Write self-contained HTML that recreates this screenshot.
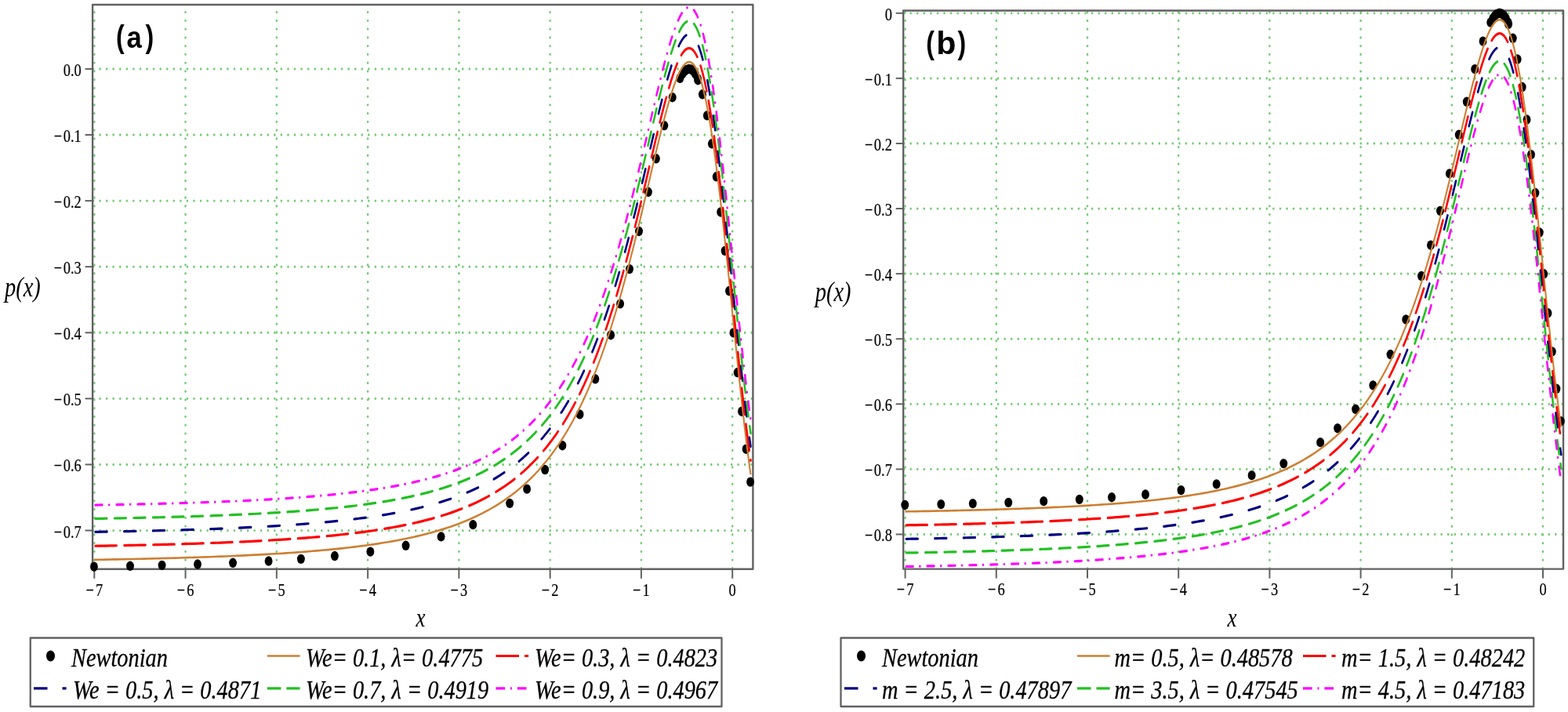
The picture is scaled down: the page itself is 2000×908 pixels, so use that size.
<!DOCTYPE html>
<html><head><meta charset="utf-8"><title>p(x) plots</title>
<style>html,body{margin:0;padding:0;background:#fff;overflow:hidden}svg{display:block}</style></head>
<body><svg width="2000" height="908" viewBox="0 0 2000 908">
<rect width="2000" height="908" fill="#fff"/>
<g transform="scale(0.7975,1)">
<g stroke="#72cc72" stroke-width="3.3" stroke-linecap="round" stroke-dasharray="0 10.745" fill="none"><line x1="150.86" y1="15.6" x2="150.86" y2="725.8"/><line x1="296.65" y1="15.6" x2="296.65" y2="725.8"/><line x1="442.45" y1="15.6" x2="442.45" y2="725.8"/><line x1="588.24" y1="15.6" x2="588.24" y2="725.8"/><line x1="734.03" y1="15.6" x2="734.03" y2="725.8"/><line x1="879.82" y1="15.6" x2="879.82" y2="725.8"/><line x1="1025.62" y1="15.6" x2="1025.62" y2="725.8"/><line x1="1171.41" y1="15.6" x2="1171.41" y2="725.8"/><line x1="149.22" y1="87.9" x2="1204.26" y2="87.9"/><line x1="149.22" y1="171.99" x2="1204.26" y2="171.99"/><line x1="149.22" y1="256.08" x2="1204.26" y2="256.08"/><line x1="149.22" y1="340.17" x2="1204.26" y2="340.17"/><line x1="149.22" y1="424.26" x2="1204.26" y2="424.26"/><line x1="149.22" y1="508.35" x2="1204.26" y2="508.35"/><line x1="149.22" y1="592.44" x2="1204.26" y2="592.44"/><line x1="149.22" y1="676.53" x2="1204.26" y2="676.53"/></g>
</g>
<rect x="118.1" y="6" width="842.3" height="719.8" fill="none" stroke="#626262" stroke-width="2.4" stroke-linejoin="round"/>
<g stroke="#626262" stroke-width="2"><line x1="108.6" y1="87.9" x2="118.1" y2="87.9"/><line x1="108.6" y1="171.99" x2="118.1" y2="171.99"/><line x1="108.6" y1="256.08" x2="118.1" y2="256.08"/><line x1="108.6" y1="340.17" x2="118.1" y2="340.17"/><line x1="108.6" y1="424.26" x2="118.1" y2="424.26"/><line x1="108.6" y1="508.35" x2="118.1" y2="508.35"/><line x1="108.6" y1="592.44" x2="118.1" y2="592.44"/><line x1="108.6" y1="676.53" x2="118.1" y2="676.53"/><line x1="120.31" y1="725.8" x2="120.31" y2="737.8"/><line x1="236.58" y1="725.8" x2="236.58" y2="737.8"/><line x1="352.85" y1="725.8" x2="352.85" y2="737.8"/><line x1="469.12" y1="725.8" x2="469.12" y2="737.8"/><line x1="585.39" y1="725.8" x2="585.39" y2="737.8"/><line x1="701.66" y1="725.8" x2="701.66" y2="737.8"/><line x1="817.93" y1="725.8" x2="817.93" y2="737.8"/><line x1="934.2" y1="725.8" x2="934.2" y2="737.8"/></g>
<g transform="scale(0.7975,1)">
<g fill="#000"><circle cx="150.42" cy="722.7" r="6.2"/><circle cx="208.16" cy="721.82" r="6.2"/><circle cx="259.04" cy="720.87" r="6.2"/><circle cx="316.04" cy="719.53" r="6.2"/><circle cx="372.46" cy="717.81" r="6.2"/><circle cx="429.62" cy="715.54" r="6.2"/><circle cx="481.37" cy="712.83" r="6.2"/><circle cx="535.32" cy="709.07" r="6.2"/><circle cx="592.32" cy="703.58" r="6.2"/><circle cx="649.03" cy="695.78" r="6.2"/><circle cx="705.46" cy="684.41" r="6.2"/><circle cx="756.48" cy="669.16" r="6.2"/><circle cx="815.24" cy="641.91" r="6.2"/><circle cx="842.79" cy="623.62" r="6.2"/><circle cx="871.66" cy="599" r="6.2"/><circle cx="899.51" cy="568.23" r="6.2"/><circle cx="927.35" cy="528.42" r="6.2"/><circle cx="952.14" cy="483.32" r="6.2"/><circle cx="976.92" cy="427.24" r="6.2"/><circle cx="991.94" cy="387.38" r="6.2"/><circle cx="1006.96" cy="343.11" r="6.2"/><circle cx="1021.97" cy="294.97" r="6.2"/><circle cx="1036.84" cy="244.79" r="6.2"/><circle cx="1049.38" cy="202.26" r="6.2"/><circle cx="1062.5" cy="160.09" r="6.2"/><circle cx="1075.48" cy="124.18" r="6.2"/><circle cx="1087.58" cy="99.75" r="6.2"/><circle cx="1091.22" cy="94.73" r="6.2"/><circle cx="1094.72" cy="91.13" r="6.2"/><circle cx="1098.22" cy="88.83" r="6.2"/><circle cx="1101.72" cy="87.91" r="6.2"/><circle cx="1105.22" cy="88.48" r="6.2"/><circle cx="1108.72" cy="90.63" r="6.2"/><circle cx="1112.22" cy="94.44" r="6.2"/><circle cx="1115.72" cy="99.97" r="6.2"/><circle cx="1116.26" cy="102.2" r="6.2"/><circle cx="1123.4" cy="120.31" r="6.2"/><circle cx="1130.84" cy="147.33" r="6.2"/><circle cx="1138.42" cy="183.3" r="6.2"/><circle cx="1145.71" cy="225.29" r="6.2"/><circle cx="1152.56" cy="270.45" r="6.2"/><circle cx="1159.41" cy="319.89" r="6.2"/><circle cx="1166.12" cy="371.02" r="6.2"/><circle cx="1172.97" cy="424.41" r="6.2"/><circle cx="1179.53" cy="475.03" r="6.2"/><circle cx="1186.24" cy="524.69" r="6.2"/><circle cx="1193.24" cy="572.7" r="6.2"/><circle cx="1200.09" cy="614.59" r="6.2"/></g>
<polyline points="150.86,713.86 156.98,713.78 163.11,713.69 169.24,713.6 175.36,713.51 181.49,713.42 187.61,713.33 193.74,713.23 199.87,713.13 205.99,713.03 212.12,712.93 218.24,712.82 224.37,712.71 230.49,712.6 236.62,712.49 242.75,712.37 248.87,712.25 255,712.12 261.12,712 267.25,711.87 273.37,711.73 279.5,711.6 285.63,711.46 291.75,711.31 297.88,711.16 304,711.01 310.13,710.85 316.25,710.69 322.38,710.53 328.51,710.36 334.63,710.18 340.76,710 346.88,709.82 353.01,709.63 359.13,709.43 365.26,709.23 371.39,709.02 377.51,708.81 383.64,708.59 389.76,708.36 395.89,708.13 402.02,707.89 408.14,707.64 414.27,707.39 420.39,707.12 426.52,706.85 432.64,706.57 438.77,706.28 444.9,705.99 451.02,705.68 457.15,705.36 463.27,705.03 469.4,704.69 475.52,704.34 481.65,703.98 487.78,703.61 493.9,703.22 500.03,702.82 506.15,702.41 512.28,701.98 518.4,701.54 524.53,701.08 530.66,700.61 536.78,700.12 542.91,699.61 549.03,699.08 555.16,698.54 561.28,697.97 567.41,697.38 573.54,696.77 579.66,696.14 585.79,695.48 591.91,694.79 598.04,694.09 604.17,693.35 610.29,692.58 616.42,691.78 622.54,690.95 628.67,690.09 634.79,689.19 640.92,688.25 647.05,687.28 653.17,686.26 659.3,685.2 665.42,684.1 671.55,682.95 677.67,681.74 683.8,680.49 689.93,679.17 696.05,677.8 702.18,676.37 708.3,674.87 714.43,673.3 720.55,671.66 726.68,669.94 732.81,668.14 738.93,666.26 745.06,664.28 751.18,662.2 757.31,660.03 763.43,657.74 769.56,655.34 775.69,652.82 781.81,650.17 787.94,647.39 794.06,644.46 800.19,641.37 806.32,638.12 812.44,634.7 818.57,631.09 824.69,627.29 830.82,623.28 836.94,619.05 843.07,614.59 849.2,609.87 855.32,604.89 861.45,599.62 867.57,594.06 873.7,588.17 879.82,581.95 880.63,581.11 881.43,580.26 882.24,579.4 883.04,578.54 883.84,577.67 884.65,576.8 885.45,575.92 886.26,575.03 887.06,574.13 887.86,573.23 888.67,572.33 889.47,571.41 890.27,570.49 891.08,569.56 891.88,568.63 892.69,567.68 893.49,566.73 894.29,565.78 895.1,564.81 895.9,563.84 896.71,562.87 897.51,561.88 898.31,560.89 899.12,559.89 899.92,558.88 900.73,557.87 901.53,556.84 902.33,555.81 903.14,554.78 903.94,553.73 904.74,552.68 905.55,551.61 906.35,550.54 907.16,549.47 907.96,548.38 908.76,547.29 909.57,546.19 910.37,545.08 911.18,543.96 911.98,542.83 912.78,541.7 913.59,540.55 914.39,539.4 915.19,538.24 916,537.07 916.8,535.89 917.61,534.7 918.41,533.51 919.21,532.3 920.02,531.09 920.82,529.87 921.63,528.63 922.43,527.39 923.23,526.14 924.04,524.88 924.84,523.61 925.65,522.33 926.45,521.05 927.25,519.75 928.06,518.44 928.86,517.12 929.66,515.8 930.47,514.46 931.27,513.11 932.08,511.76 932.88,510.39 933.68,509.01 934.49,507.63 935.29,506.23 936.1,504.82 936.9,503.41 937.7,501.98 938.51,500.54 939.31,499.09 940.11,497.63 940.92,496.16 941.72,494.68 942.53,493.19 943.33,491.68 944.13,490.17 944.94,488.64 945.74,487.11 946.55,485.56 947.35,484 948.15,482.43 948.96,480.85 949.76,479.26 950.57,477.66 951.37,476.04 952.17,474.42 952.98,472.78 953.78,471.13 954.58,469.47 955.39,467.79 956.19,466.11 957,464.41 957.8,462.7 958.6,460.98 959.41,459.25 960.21,457.5 961.02,455.75 961.82,453.98 962.62,452.19 963.43,450.4 964.23,448.59 965.03,446.77 965.84,444.94 966.64,443.1 967.45,441.24 968.25,439.38 969.05,437.49 969.86,435.6 970.66,433.69 971.47,431.77 972.27,429.84 973.07,427.9 973.88,425.94 974.68,423.97 975.49,421.99 976.29,419.99 977.09,417.98 977.9,415.96 978.7,413.92 979.5,411.88 980.31,409.82 981.11,407.74 981.92,405.66 982.72,403.56 983.52,401.44 984.33,399.32 985.13,397.18 985.94,395.03 986.74,392.86 987.54,390.69 988.35,388.5 989.15,386.29 989.95,384.08 990.76,381.85 991.56,379.61 992.37,377.35 993.17,375.08 993.97,372.8 994.78,370.51 995.58,368.21 996.39,365.89 997.19,363.56 997.99,361.22 998.8,358.86 999.6,356.49 1000.41,354.11 1001.21,351.72 1002.01,349.32 1002.82,346.9 1003.62,344.47 1004.42,342.03 1005.23,339.58 1006.03,337.12 1006.84,334.65 1007.64,332.16 1008.44,329.67 1009.25,327.16 1010.05,324.64 1010.86,322.11 1011.66,319.57 1012.46,317.02 1013.27,314.46 1014.07,311.89 1014.87,309.31 1015.68,306.72 1016.48,304.12 1017.29,301.51 1018.09,298.9 1018.89,296.27 1019.7,293.64 1020.5,290.99 1021.31,288.34 1022.11,285.68 1022.91,283.02 1023.72,280.34 1024.52,277.66 1025.33,274.98 1026.13,272.28 1026.93,269.59 1027.74,266.88 1028.54,264.17 1029.34,261.46 1030.15,258.74 1030.95,256.01 1031.76,253.28 1032.56,250.55 1033.36,247.82 1034.17,245.08 1034.97,242.34 1035.78,239.6 1036.58,236.86 1037.38,234.12 1038.19,231.37 1038.99,228.63 1039.79,225.89 1040.6,223.15 1041.4,220.41 1042.21,217.67 1043.01,214.94 1043.81,212.21 1044.62,209.48 1045.42,206.76 1046.23,204.04 1047.03,201.33 1047.83,198.62 1048.64,195.93 1049.44,193.24 1050.25,190.55 1051.05,187.88 1051.85,185.22 1052.66,182.57 1053.46,179.93 1054.26,177.3 1055.07,174.69 1055.87,172.09 1056.68,169.5 1057.48,166.93 1058.28,164.37 1059.09,161.84 1059.89,159.32 1060.7,156.81 1061.5,154.33 1062.3,151.87 1063.11,149.43 1063.91,147.02 1064.71,144.62 1065.52,142.26 1066.32,139.91 1067.13,137.6 1067.93,135.31 1068.73,133.05 1069.54,130.81 1070.34,128.61 1071.15,126.45 1071.95,124.31 1072.75,122.21 1073.56,120.14 1074.36,118.11 1075.17,116.11 1075.97,114.16 1076.77,112.24 1077.58,110.37 1078.38,108.53 1079.18,106.74 1079.99,105 1080.79,103.3 1081.6,101.64 1082.4,100.04 1083.2,98.48 1084.01,96.97 1084.81,95.52 1085.62,94.11 1086.42,92.77 1087.22,91.47 1088.03,90.24 1088.83,89.06 1089.63,87.94 1090.44,86.88 1091.24,85.88 1092.05,84.95 1092.85,84.08 1093.65,83.27 1094.46,82.53 1095.26,81.86 1096.07,81.26 1096.87,80.73 1097.67,80.27 1098.48,79.88 1099.28,79.57 1100.09,79.33 1100.89,79.17 1101.69,79.08 1102.5,79.08 1103.3,79.15 1104.1,79.3 1104.91,79.54 1105.71,79.86 1106.52,80.26 1107.32,80.75 1108.12,81.32 1108.93,81.98 1109.73,82.73 1110.54,83.57 1111.34,84.49 1112.14,85.51 1112.95,86.61 1113.75,87.81 1114.56,89.1 1115.36,90.49 1116.16,91.97 1116.97,93.54 1117.77,95.21 1118.57,96.97 1119.38,98.83 1120.18,100.79 1120.99,102.84 1121.79,104.99 1122.59,107.23 1123.4,109.58 1124.2,112.02 1125.01,114.56 1125.81,117.2 1126.61,119.93 1127.42,122.77 1128.22,125.7 1129.02,128.72 1129.83,131.85 1130.63,135.07 1131.44,138.39 1132.24,141.81 1133.04,145.32 1133.85,148.92 1134.65,152.62 1135.46,156.41 1136.26,160.3 1137.06,164.28 1137.87,168.35 1138.67,172.51 1139.48,176.76 1140.28,181.09 1141.08,185.52 1141.89,190.03 1142.69,194.62 1143.49,199.3 1144.3,204.06 1145.1,208.89 1145.91,213.81 1146.71,218.8 1147.51,223.87 1148.32,229.02 1149.12,234.23 1149.93,239.51 1150.73,244.86 1151.53,250.28 1152.34,255.76 1153.14,261.3 1153.94,266.9 1154.75,272.56 1155.55,278.28 1156.36,284.04 1157.16,289.86 1157.96,295.73 1158.77,301.64 1159.57,307.59 1160.38,313.58 1161.18,319.61 1161.98,325.68 1162.79,331.78 1163.59,337.91 1164.4,344.06 1165.2,350.24 1166,356.44 1166.81,362.66 1167.61,368.9 1168.41,375.15 1169.22,381.41 1170.02,387.68 1170.83,393.95 1171.63,400.23 1172.43,406.5 1173.24,412.78 1174.04,419.04 1174.85,425.3 1175.65,431.54 1176.45,437.77 1177.26,443.98 1178.06,450.17 1178.86,456.34 1179.67,462.48 1180.47,468.59 1181.28,474.67 1182.08,480.72 1182.88,486.73 1183.69,492.7 1184.49,498.63 1185.3,504.51 1186.1,510.35 1186.9,516.14 1187.71,521.88 1188.51,527.57 1189.32,533.19 1190.12,538.76 1190.92,544.27 1191.73,549.72 1192.53,555.1 1193.33,560.41 1194.14,565.66 1194.94,570.83 1195.75,575.94 1196.55,580.96 1197.35,585.92 1198.16,590.79 1198.96,595.59 1199.77,600.3 1200.57,604.93" fill="none" stroke="#cd7f32" stroke-width="2.6" stroke-linejoin="round"/>
<polyline points="150.86,696.29 156.98,696.2 163.11,696.12 169.24,696.03 175.36,695.94 181.49,695.85 187.61,695.75 193.74,695.66 199.87,695.56 205.99,695.46 212.12,695.35 218.24,695.25 224.37,695.14 230.49,695.03 236.62,694.91 242.75,694.79 248.87,694.67 255,694.55 261.12,694.42 267.25,694.29 273.37,694.16 279.5,694.02 285.63,693.88 291.75,693.74 297.88,693.59 304,693.43 310.13,693.28 316.25,693.12 322.38,692.95 328.51,692.78 334.63,692.61 340.76,692.43 346.88,692.24 353.01,692.05 359.13,691.86 365.26,691.65 371.39,691.45 377.51,691.23 383.64,691.01 389.76,690.79 395.89,690.55 402.02,690.31 408.14,690.07 414.27,689.81 420.39,689.55 426.52,689.28 432.64,689 438.77,688.71 444.9,688.41 451.02,688.1 457.15,687.79 463.27,687.46 469.4,687.12 475.52,686.77 481.65,686.41 487.78,686.04 493.9,685.65 500.03,685.25 506.15,684.84 512.28,684.41 518.4,683.97 524.53,683.51 530.66,683.03 536.78,682.54 542.91,682.03 549.03,681.51 555.16,680.96 561.28,680.39 567.41,679.81 573.54,679.19 579.66,678.56 585.79,677.9 591.91,677.22 598.04,676.51 604.17,675.77 610.29,675.01 616.42,674.21 622.54,673.38 628.67,672.52 634.79,671.62 640.92,670.68 647.05,669.7 653.17,668.69 659.3,667.63 665.42,666.52 671.55,665.37 677.67,664.17 683.8,662.91 689.93,661.6 696.05,660.23 702.18,658.79 708.3,657.3 714.43,655.73 720.55,654.09 726.68,652.37 732.81,650.57 738.93,648.68 745.06,646.7 751.18,644.63 757.31,642.45 763.43,640.17 769.56,637.77 775.69,635.25 781.81,632.6 787.94,629.81 794.06,626.88 800.19,623.8 806.32,620.55 812.44,617.13 818.57,613.52 824.69,609.72 830.82,605.71 836.94,601.48 843.07,597.01 849.2,592.29 855.32,587.31 861.45,582.05 867.57,576.48 873.7,570.6 879.82,564.38 880.63,563.53 881.43,562.68 882.24,561.83 883.04,560.97 883.84,560.1 884.65,559.22 885.45,558.34 886.26,557.45 887.06,556.56 887.86,555.66 888.67,554.75 889.47,553.84 890.27,552.91 891.08,551.99 891.88,551.05 892.69,550.11 893.49,549.16 894.29,548.2 895.1,547.24 895.9,546.27 896.71,545.29 897.51,544.31 898.31,543.31 899.12,542.31 899.92,541.31 900.73,540.29 901.53,539.27 902.33,538.24 903.14,537.2 903.94,536.15 904.74,535.1 905.55,534.04 906.35,532.97 907.16,531.89 907.96,530.81 908.76,529.71 909.57,528.61 910.37,527.5 911.18,526.38 911.98,525.26 912.78,524.12 913.59,522.98 914.39,521.83 915.19,520.66 916,519.49 916.8,518.32 917.61,517.13 918.41,515.93 919.21,514.73 920.02,513.51 920.82,512.29 921.63,511.06 922.43,509.82 923.23,508.57 924.04,507.31 924.84,506.04 925.65,504.76 926.45,503.47 927.25,502.17 928.06,500.87 928.86,499.55 929.66,498.22 930.47,496.89 931.27,495.54 932.08,494.18 932.88,492.82 933.68,491.44 934.49,490.05 935.29,488.66 936.1,487.25 936.9,485.83 937.7,484.4 938.51,482.96 939.31,481.51 940.11,480.05 940.92,478.58 941.72,477.1 942.53,475.61 943.33,474.11 944.13,472.59 944.94,471.07 945.74,469.53 946.55,467.99 947.35,466.43 948.15,464.86 948.96,463.28 949.76,461.69 950.57,460.08 951.37,458.47 952.17,456.84 952.98,455.2 953.78,453.55 954.58,451.89 955.39,450.22 956.19,448.53 957,446.84 957.8,445.13 958.6,443.41 959.41,441.67 960.21,439.93 961.02,438.17 961.82,436.4 962.62,434.62 963.43,432.83 964.23,431.02 965.03,429.2 965.84,427.37 966.64,425.53 967.45,423.67 968.25,421.8 969.05,419.92 969.86,418.03 970.66,416.12 971.47,414.2 972.27,412.27 973.07,410.32 973.88,408.36 974.68,406.39 975.49,404.41 976.29,402.42 977.09,400.41 977.9,398.38 978.7,396.35 979.5,394.3 980.31,392.24 981.11,390.17 981.92,388.08 982.72,385.98 983.52,383.87 984.33,381.74 985.13,379.6 985.94,377.45 986.74,375.29 987.54,373.11 988.35,370.92 989.15,368.72 989.95,366.5 990.76,364.27 991.56,362.03 992.37,359.78 993.17,357.51 993.97,355.23 994.78,352.94 995.58,350.63 996.39,348.31 997.19,345.98 997.99,343.64 998.8,341.29 999.6,338.92 1000.41,336.54 1001.21,334.15 1002.01,331.74 1002.82,329.33 1003.62,326.9 1004.42,324.46 1005.23,322.01 1006.03,319.55 1006.84,317.07 1007.64,314.59 1008.44,312.09 1009.25,309.58 1010.05,307.07 1010.86,304.54 1011.66,302 1012.46,299.45 1013.27,296.89 1014.07,294.32 1014.87,291.74 1015.68,289.15 1016.48,286.55 1017.29,283.94 1018.09,281.32 1018.89,278.7 1019.7,276.06 1020.5,273.42 1021.31,270.77 1022.11,268.11 1022.91,265.44 1023.72,262.77 1024.52,260.09 1025.33,257.4 1026.13,254.71 1026.93,252.01 1027.74,249.31 1028.54,246.6 1029.34,243.88 1030.15,241.16 1030.95,238.44 1031.76,235.71 1032.56,232.98 1033.36,230.24 1034.17,227.51 1034.97,224.77 1035.78,222.03 1036.58,219.28 1037.38,216.54 1038.19,213.8 1038.99,211.06 1039.79,208.31 1040.6,205.57 1041.4,202.83 1042.21,200.1 1043.01,197.36 1043.81,194.63 1044.62,191.9 1045.42,189.18 1046.23,186.46 1047.03,183.75 1047.83,181.05 1048.64,178.35 1049.44,175.66 1050.25,172.98 1051.05,170.31 1051.85,167.65 1052.66,164.99 1053.46,162.35 1054.26,159.73 1055.07,157.11 1055.87,154.51 1056.68,151.92 1057.48,149.35 1058.28,146.8 1059.09,144.26 1059.89,141.74 1060.7,139.24 1061.5,136.76 1062.3,134.3 1063.11,131.86 1063.91,129.44 1064.71,127.05 1065.52,124.68 1066.32,122.34 1067.13,120.02 1067.93,117.73 1068.73,115.47 1069.54,113.24 1070.34,111.04 1071.15,108.87 1071.95,106.73 1072.75,104.63 1073.56,102.56 1074.36,100.53 1075.17,98.54 1075.97,96.58 1076.77,94.67 1077.58,92.79 1078.38,90.96 1079.18,89.17 1079.99,87.42 1080.79,85.72 1081.6,84.07 1082.4,82.46 1083.2,80.9 1084.01,79.4 1084.81,77.94 1085.62,76.54 1086.42,75.19 1087.22,73.9 1088.03,72.66 1088.83,71.48 1089.63,70.36 1090.44,69.3 1091.24,68.31 1092.05,67.37 1092.85,66.5 1093.65,65.7 1094.46,64.96 1095.26,64.29 1096.07,63.69 1096.87,63.15 1097.67,62.69 1098.48,62.31 1099.28,61.99 1100.09,61.76 1100.89,61.59 1101.69,61.51 1102.5,61.5 1103.3,61.58 1104.1,61.73 1104.91,61.97 1105.71,62.28 1106.52,62.69 1107.32,63.17 1108.12,63.75 1108.93,64.41 1109.73,65.16 1110.54,65.99 1111.34,66.92 1112.14,67.93 1112.95,69.04 1113.75,70.24 1114.56,71.53 1115.36,72.91 1116.16,74.39 1116.97,75.97 1117.77,77.63 1118.57,79.4 1119.38,81.26 1120.18,83.21 1120.99,85.26 1121.79,87.41 1122.59,89.66 1123.4,92 1124.2,94.45 1125.01,96.98 1125.81,99.62 1126.61,102.36 1127.42,105.19 1128.22,108.12 1129.02,111.15 1129.83,114.28 1130.63,117.5 1131.44,120.82 1132.24,124.23 1133.04,127.74 1133.85,131.35 1134.65,135.05 1135.46,138.84 1136.26,142.73 1137.06,146.7 1137.87,150.77 1138.67,154.93 1139.48,159.18 1140.28,163.52 1141.08,167.94 1141.89,172.45 1142.69,177.05 1143.49,181.72 1144.3,186.48 1145.1,191.32 1145.91,196.24 1146.71,201.23 1147.51,206.3 1148.32,211.44 1149.12,216.65 1149.93,221.94 1150.73,227.29 1151.53,232.71 1152.34,238.19 1153.14,243.73 1153.94,249.33 1154.75,254.99 1155.55,260.7 1156.36,266.47 1157.16,272.29 1157.96,278.15 1158.77,284.06 1159.57,290.01 1160.38,296.01 1161.18,302.04 1161.98,308.1 1162.79,314.2 1163.59,320.33 1164.4,326.49 1165.2,332.67 1166,338.87 1166.81,345.09 1167.61,351.33 1168.41,357.58 1169.22,363.84 1170.02,370.11 1170.83,376.38 1171.63,382.65 1172.43,388.93 1173.24,395.2 1174.04,401.47 1174.85,407.72 1175.65,413.96 1176.45,420.19 1177.26,426.4 1178.06,432.59 1178.86,438.76 1179.67,444.9 1180.47,451.01 1181.28,457.1 1182.08,463.14 1182.88,469.15 1183.69,475.12 1184.49,481.05 1185.3,486.94 1186.1,492.78 1186.9,498.57 1187.71,504.31 1188.51,509.99 1189.32,515.62 1190.12,521.19 1190.92,526.7 1191.73,532.14 1192.53,537.52 1193.33,542.84 1194.14,548.08 1194.94,553.26 1195.75,558.36 1196.55,563.39 1197.35,568.34 1198.16,573.22 1198.96,578.01 1199.77,582.72 1200.57,587.36" fill="none" stroke="#ff0000" stroke-width="3.2" stroke-linejoin="round" stroke-dasharray="33.98 12.34" stroke-dashoffset="-1.6" stroke-linecap="round"/>
<polyline points="150.86,678.37 156.98,678.29 163.11,678.21 169.24,678.12 175.36,678.03 181.49,677.94 187.61,677.84 193.74,677.75 199.87,677.65 205.99,677.55 212.12,677.44 218.24,677.33 224.37,677.23 230.49,677.11 236.62,677 242.75,676.88 248.87,676.76 255,676.64 261.12,676.51 267.25,676.38 273.37,676.25 279.5,676.11 285.63,675.97 291.75,675.82 297.88,675.68 304,675.52 310.13,675.37 316.25,675.21 322.38,675.04 328.51,674.87 334.63,674.7 340.76,674.52 346.88,674.33 353.01,674.14 359.13,673.94 365.26,673.74 371.39,673.54 377.51,673.32 383.64,673.1 389.76,672.88 395.89,672.64 402.02,672.4 408.14,672.16 414.27,671.9 420.39,671.64 426.52,671.37 432.64,671.09 438.77,670.8 444.9,670.5 451.02,670.19 457.15,669.87 463.27,669.55 469.4,669.21 475.52,668.86 481.65,668.5 487.78,668.12 493.9,667.74 500.03,667.34 506.15,666.93 512.28,666.5 518.4,666.06 524.53,665.6 530.66,665.12 536.78,664.63 542.91,664.12 549.03,663.6 555.16,663.05 561.28,662.48 567.41,661.89 573.54,661.28 579.66,660.65 585.79,659.99 591.91,659.31 598.04,658.6 604.17,657.86 610.29,657.09 616.42,656.3 622.54,655.47 628.67,654.6 634.79,653.71 640.92,652.77 647.05,651.79 653.17,650.78 659.3,649.72 665.42,648.61 671.55,647.46 677.67,646.26 683.8,645 689.93,643.69 696.05,642.32 702.18,640.88 708.3,639.38 714.43,637.82 720.55,636.18 726.68,634.46 732.81,632.66 738.93,630.77 745.06,628.79 751.18,626.72 757.31,624.54 763.43,622.26 769.56,619.86 775.69,617.34 781.81,614.69 787.94,611.9 794.06,608.97 800.19,605.88 806.32,602.64 812.44,599.21 818.57,595.61 824.69,591.81 830.82,587.8 836.94,583.57 843.07,579.1 849.2,574.38 855.32,569.4 861.45,564.14 867.57,558.57 873.7,552.69 879.82,546.46 880.63,545.62 881.43,544.77 882.24,543.92 883.04,543.05 883.84,542.19 884.65,541.31 885.45,540.43 886.26,539.54 887.06,538.65 887.86,537.75 888.67,536.84 889.47,535.92 890.27,535 891.08,534.08 891.88,533.14 892.69,532.2 893.49,531.25 894.29,530.29 895.1,529.33 895.9,528.36 896.71,527.38 897.51,526.4 898.31,525.4 899.12,524.4 899.92,523.39 900.73,522.38 901.53,521.36 902.33,520.33 903.14,519.29 903.94,518.24 904.74,517.19 905.55,516.13 906.35,515.06 907.16,513.98 907.96,512.9 908.76,511.8 909.57,510.7 910.37,509.59 911.18,508.47 911.98,507.35 912.78,506.21 913.59,505.07 914.39,503.91 915.19,502.75 916,501.58 916.8,500.41 917.61,499.22 918.41,498.02 919.21,496.82 920.02,495.6 920.82,494.38 921.63,493.15 922.43,491.91 923.23,490.66 924.04,489.4 924.84,488.13 925.65,486.85 926.45,485.56 927.25,484.26 928.06,482.96 928.86,481.64 929.66,480.31 930.47,478.97 931.27,477.63 932.08,476.27 932.88,474.9 933.68,473.53 934.49,472.14 935.29,470.74 936.1,469.34 936.9,467.92 937.7,466.49 938.51,465.05 939.31,463.6 940.11,462.14 940.92,460.67 941.72,459.19 942.53,457.7 943.33,456.2 944.13,454.68 944.94,453.16 945.74,451.62 946.55,450.08 947.35,448.52 948.15,446.95 948.96,445.37 949.76,443.77 950.57,442.17 951.37,440.56 952.17,438.93 952.98,437.29 953.78,435.64 954.58,433.98 955.39,432.31 956.19,430.62 957,428.92 957.8,427.22 958.6,425.49 959.41,423.76 960.21,422.02 961.02,420.26 961.82,418.49 962.62,416.71 963.43,414.91 964.23,413.11 965.03,411.29 965.84,409.46 966.64,407.61 967.45,405.76 968.25,403.89 969.05,402.01 969.86,400.11 970.66,398.21 971.47,396.29 972.27,394.36 973.07,392.41 973.88,390.45 974.68,388.48 975.49,386.5 976.29,384.5 977.09,382.49 977.9,380.47 978.7,378.44 979.5,376.39 980.31,374.33 981.11,372.26 981.92,370.17 982.72,368.07 983.52,365.96 984.33,363.83 985.13,361.69 985.94,359.54 986.74,357.38 987.54,355.2 988.35,353.01 989.15,350.81 989.95,348.59 990.76,346.36 991.56,344.12 992.37,341.87 993.17,339.6 993.97,337.32 994.78,335.03 995.58,332.72 996.39,330.4 997.19,328.07 997.99,325.73 998.8,323.37 999.6,321.01 1000.41,318.63 1001.21,316.24 1002.01,313.83 1002.82,311.42 1003.62,308.99 1004.42,306.55 1005.23,304.1 1006.03,301.64 1006.84,299.16 1007.64,296.68 1008.44,294.18 1009.25,291.67 1010.05,289.15 1010.86,286.63 1011.66,284.09 1012.46,281.54 1013.27,278.98 1014.07,276.41 1014.87,273.83 1015.68,271.24 1016.48,268.64 1017.29,266.03 1018.09,263.41 1018.89,260.79 1019.7,258.15 1020.5,255.51 1021.31,252.86 1022.11,250.2 1022.91,247.53 1023.72,244.86 1024.52,242.18 1025.33,239.49 1026.13,236.8 1026.93,234.1 1027.74,231.39 1028.54,228.68 1029.34,225.97 1030.15,223.25 1030.95,220.53 1031.76,217.8 1032.56,215.07 1033.36,212.33 1034.17,209.6 1034.97,206.86 1035.78,204.12 1036.58,201.37 1037.38,198.63 1038.19,195.89 1038.99,193.14 1039.79,190.4 1040.6,187.66 1041.4,184.92 1042.21,182.18 1043.01,179.45 1043.81,176.72 1044.62,173.99 1045.42,171.27 1046.23,168.55 1047.03,165.84 1047.83,163.14 1048.64,160.44 1049.44,157.75 1050.25,155.07 1051.05,152.4 1051.85,149.73 1052.66,147.08 1053.46,144.44 1054.26,141.82 1055.07,139.2 1055.87,136.6 1056.68,134.01 1057.48,131.44 1058.28,128.89 1059.09,126.35 1059.89,123.83 1060.7,121.33 1061.5,118.85 1062.3,116.39 1063.11,113.95 1063.91,111.53 1064.71,109.14 1065.52,106.77 1066.32,104.43 1067.13,102.11 1067.93,99.82 1068.73,97.56 1069.54,95.33 1070.34,93.13 1071.15,90.96 1071.95,88.82 1072.75,86.72 1073.56,84.65 1074.36,82.62 1075.17,80.63 1075.97,78.67 1076.77,76.76 1077.58,74.88 1078.38,73.05 1079.18,71.26 1079.99,69.51 1080.79,67.81 1081.6,66.16 1082.4,64.55 1083.2,62.99 1084.01,61.49 1084.81,60.03 1085.62,58.63 1086.42,57.28 1087.22,55.99 1088.03,54.75 1088.83,53.57 1089.63,52.45 1090.44,51.39 1091.24,50.4 1092.05,49.46 1092.85,48.59 1093.65,47.79 1094.46,47.05 1095.26,46.38 1096.07,45.77 1096.87,45.24 1097.67,44.78 1098.48,44.4 1099.28,44.08 1100.09,43.84 1100.89,43.68 1101.69,43.6 1102.5,43.59 1103.3,43.66 1104.1,43.82 1104.91,44.05 1105.71,44.37 1106.52,44.78 1107.32,45.26 1108.12,45.84 1108.93,46.5 1109.73,47.24 1110.54,48.08 1111.34,49.01 1112.14,50.02 1112.95,51.13 1113.75,52.33 1114.56,53.62 1115.36,55 1116.16,56.48 1116.97,58.05 1117.77,59.72 1118.57,61.49 1119.38,63.34 1120.18,65.3 1120.99,67.35 1121.79,69.5 1122.59,71.75 1123.4,74.09 1124.2,76.53 1125.01,79.07 1125.81,81.71 1126.61,84.45 1127.42,87.28 1128.22,90.21 1129.02,93.24 1129.83,96.36 1130.63,99.59 1131.44,102.9 1132.24,106.32 1133.04,109.83 1133.85,113.44 1134.65,117.13 1135.46,120.93 1136.26,124.81 1137.06,128.79 1137.87,132.86 1138.67,137.02 1139.48,141.27 1140.28,145.61 1141.08,150.03 1141.89,154.54 1142.69,159.13 1143.49,163.81 1144.3,168.57 1145.1,173.41 1145.91,178.32 1146.71,183.32 1147.51,188.39 1148.32,193.53 1149.12,198.74 1149.93,204.03 1150.73,209.38 1151.53,214.79 1152.34,220.28 1153.14,225.82 1153.94,231.42 1154.75,237.08 1155.55,242.79 1156.36,248.56 1157.16,254.37 1157.96,260.24 1158.77,266.15 1159.57,272.1 1160.38,278.09 1161.18,284.13 1161.98,290.19 1162.79,296.29 1163.59,302.42 1164.4,308.57 1165.2,314.75 1166,320.96 1166.81,327.18 1167.61,333.41 1168.41,339.66 1169.22,345.93 1170.02,352.19 1170.83,358.47 1171.63,364.74 1172.43,371.02 1173.24,377.29 1174.04,383.55 1174.85,389.81 1175.65,396.05 1176.45,402.28 1177.26,408.49 1178.06,414.68 1178.86,420.85 1179.67,426.99 1180.47,433.1 1181.28,439.18 1182.08,445.23 1182.88,451.24 1183.69,457.21 1184.49,463.14 1185.3,469.03 1186.1,474.87 1186.9,480.66 1187.71,486.4 1188.51,492.08 1189.32,497.71 1190.12,503.28 1190.92,508.79 1191.73,514.23 1192.53,519.61 1193.33,524.93 1194.14,530.17 1194.94,535.35 1195.75,540.45 1196.55,545.48 1197.35,550.43 1198.16,555.3 1198.96,560.1 1199.77,564.81 1200.57,569.44" fill="none" stroke="#000080" stroke-width="3.2" stroke-linejoin="round" stroke-dasharray="18.73 27.32" stroke-dashoffset="-1.6" stroke-linecap="round"/>
<polyline points="150.86,661.47 156.98,661.39 163.11,661.3 169.24,661.22 175.36,661.13 181.49,661.03 187.61,660.94 193.74,660.84 199.87,660.74 205.99,660.64 212.12,660.54 218.24,660.43 224.37,660.32 230.49,660.21 236.62,660.1 242.75,659.98 248.87,659.86 255,659.74 261.12,659.61 267.25,659.48 273.37,659.35 279.5,659.21 285.63,659.07 291.75,658.92 297.88,658.77 304,658.62 310.13,658.46 316.25,658.3 322.38,658.14 328.51,657.97 334.63,657.79 340.76,657.61 346.88,657.43 353.01,657.24 359.13,657.04 365.26,656.84 371.39,656.63 377.51,656.42 383.64,656.2 389.76,655.97 395.89,655.74 402.02,655.5 408.14,655.25 414.27,655 420.39,654.73 426.52,654.46 432.64,654.18 438.77,653.9 444.9,653.6 451.02,653.29 457.15,652.97 463.27,652.64 469.4,652.31 475.52,651.96 481.65,651.6 487.78,651.22 493.9,650.84 500.03,650.44 506.15,650.02 512.28,649.6 518.4,649.15 524.53,648.7 530.66,648.22 536.78,647.73 542.91,647.22 549.03,646.69 555.16,646.15 561.28,645.58 567.41,644.99 573.54,644.38 579.66,643.75 585.79,643.09 591.91,642.41 598.04,641.7 604.17,640.96 610.29,640.19 616.42,639.39 622.54,638.57 628.67,637.7 634.79,636.8 640.92,635.87 647.05,634.89 653.17,633.88 659.3,632.82 665.42,631.71 671.55,630.56 677.67,629.35 683.8,628.1 689.93,626.79 696.05,625.41 702.18,623.98 708.3,622.48 714.43,620.91 720.55,619.27 726.68,617.55 732.81,615.75 738.93,613.87 745.06,611.89 751.18,609.82 757.31,607.64 763.43,605.36 769.56,602.96 775.69,600.43 781.81,597.79 787.94,595 794.06,592.07 800.19,588.98 806.32,585.73 812.44,582.31 818.57,578.71 824.69,574.9 830.82,570.89 836.94,566.66 843.07,562.2 849.2,557.48 855.32,552.5 861.45,547.23 867.57,541.67 873.7,535.79 879.82,529.56 880.63,528.72 881.43,527.87 882.24,527.01 883.04,526.15 883.84,525.28 884.65,524.41 885.45,523.53 886.26,522.64 887.06,521.75 887.86,520.85 888.67,519.94 889.47,519.02 890.27,518.1 891.08,517.17 891.88,516.24 892.69,515.3 893.49,514.35 894.29,513.39 895.1,512.43 895.9,511.46 896.71,510.48 897.51,509.49 898.31,508.5 899.12,507.5 899.92,506.49 900.73,505.48 901.53,504.46 902.33,503.42 903.14,502.39 903.94,501.34 904.74,500.29 905.55,499.23 906.35,498.16 907.16,497.08 907.96,495.99 908.76,494.9 909.57,493.8 910.37,492.69 911.18,491.57 911.98,490.44 912.78,489.31 913.59,488.16 914.39,487.01 915.19,485.85 916,484.68 916.8,483.5 917.61,482.32 918.41,481.12 919.21,479.92 920.02,478.7 920.82,477.48 921.63,476.25 922.43,475 923.23,473.75 924.04,472.49 924.84,471.23 925.65,469.95 926.45,468.66 927.25,467.36 928.06,466.05 928.86,464.74 929.66,463.41 930.47,462.07 931.27,460.73 932.08,459.37 932.88,458 933.68,456.63 934.49,455.24 935.29,453.84 936.1,452.43 936.9,451.02 937.7,449.59 938.51,448.15 939.31,446.7 940.11,445.24 940.92,443.77 941.72,442.29 942.53,440.8 943.33,439.29 944.13,437.78 944.94,436.26 945.74,434.72 946.55,433.17 947.35,431.61 948.15,430.05 948.96,428.46 949.76,426.87 950.57,425.27 951.37,423.65 952.17,422.03 952.98,420.39 953.78,418.74 954.58,417.08 955.39,415.4 956.19,413.72 957,412.02 957.8,410.31 958.6,408.59 959.41,406.86 960.21,405.11 961.02,403.36 961.82,401.59 962.62,399.81 963.43,398.01 964.23,396.21 965.03,394.39 965.84,392.56 966.64,390.71 967.45,388.86 968.25,386.99 969.05,385.11 969.86,383.21 970.66,381.31 971.47,379.39 972.27,377.45 973.07,375.51 973.88,373.55 974.68,371.58 975.49,369.6 976.29,367.6 977.09,365.59 977.9,363.57 978.7,361.54 979.5,359.49 980.31,357.43 981.11,355.35 981.92,353.27 982.72,351.17 983.52,349.06 984.33,346.93 985.13,344.79 985.94,342.64 986.74,340.48 987.54,338.3 988.35,336.11 989.15,333.9 989.95,331.69 990.76,329.46 991.56,327.22 992.37,324.96 993.17,322.7 993.97,320.42 994.78,318.12 995.58,315.82 996.39,313.5 997.19,311.17 997.99,308.83 998.8,306.47 999.6,304.1 1000.41,301.73 1001.21,299.33 1002.01,296.93 1002.82,294.51 1003.62,292.09 1004.42,289.65 1005.23,287.2 1006.03,284.73 1006.84,282.26 1007.64,279.77 1008.44,277.28 1009.25,274.77 1010.05,272.25 1010.86,269.72 1011.66,267.18 1012.46,264.63 1013.27,262.07 1014.07,259.5 1014.87,256.92 1015.68,254.33 1016.48,251.73 1017.29,249.13 1018.09,246.51 1018.89,243.88 1019.7,241.25 1020.5,238.61 1021.31,235.95 1022.11,233.3 1022.91,230.63 1023.72,227.96 1024.52,225.28 1025.33,222.59 1026.13,219.9 1026.93,217.2 1027.74,214.49 1028.54,211.78 1029.34,209.07 1030.15,206.35 1030.95,203.62 1031.76,200.9 1032.56,198.16 1033.36,195.43 1034.17,192.69 1034.97,189.95 1035.78,187.21 1036.58,184.47 1037.38,181.73 1038.19,178.99 1038.99,176.24 1039.79,173.5 1040.6,170.76 1041.4,168.02 1042.21,165.28 1043.01,162.55 1043.81,159.82 1044.62,157.09 1045.42,154.37 1046.23,151.65 1047.03,148.94 1047.83,146.24 1048.64,143.54 1049.44,140.85 1050.25,138.17 1051.05,135.49 1051.85,132.83 1052.66,130.18 1053.46,127.54 1054.26,124.91 1055.07,122.3 1055.87,119.7 1056.68,117.11 1057.48,114.54 1058.28,111.99 1059.09,109.45 1059.89,106.93 1060.7,104.43 1061.5,101.95 1062.3,99.48 1063.11,97.05 1063.91,94.63 1064.71,92.24 1065.52,89.87 1066.32,87.52 1067.13,85.21 1067.93,82.92 1068.73,80.66 1069.54,78.43 1070.34,76.23 1071.15,74.06 1071.95,71.92 1072.75,69.82 1073.56,67.75 1074.36,65.72 1075.17,63.73 1075.97,61.77 1076.77,59.85 1077.58,57.98 1078.38,56.15 1079.18,54.35 1079.99,52.61 1080.79,50.91 1081.6,49.25 1082.4,47.65 1083.2,46.09 1084.01,44.58 1084.81,43.13 1085.62,41.73 1086.42,40.38 1087.22,39.08 1088.03,37.85 1088.83,36.67 1089.63,35.55 1090.44,34.49 1091.24,33.49 1092.05,32.56 1092.85,31.69 1093.65,30.88 1094.46,30.15 1095.26,29.47 1096.07,28.87 1096.87,28.34 1097.67,27.88 1098.48,27.49 1099.28,27.18 1100.09,26.94 1100.89,26.78 1101.69,26.7 1102.5,26.69 1103.3,26.76 1104.1,26.92 1104.91,27.15 1105.71,27.47 1106.52,27.87 1107.32,28.36 1108.12,28.93 1108.93,29.59 1109.73,30.34 1110.54,31.18 1111.34,32.1 1112.14,33.12 1112.95,34.23 1113.75,35.43 1114.56,36.72 1115.36,38.1 1116.16,39.58 1116.97,41.15 1117.77,42.82 1118.57,44.58 1119.38,46.44 1120.18,48.4 1120.99,50.45 1121.79,52.6 1122.59,54.85 1123.4,57.19 1124.2,59.63 1125.01,62.17 1125.81,64.81 1126.61,67.54 1127.42,70.38 1128.22,73.31 1129.02,76.34 1129.83,79.46 1130.63,82.68 1131.44,86 1132.24,89.42 1133.04,92.93 1133.85,96.53 1134.65,100.23 1135.46,104.03 1136.26,107.91 1137.06,111.89 1137.87,115.96 1138.67,120.12 1139.48,124.37 1140.28,128.71 1141.08,133.13 1141.89,137.64 1142.69,142.23 1143.49,146.91 1144.3,151.67 1145.1,156.51 1145.91,161.42 1146.71,166.42 1147.51,171.49 1148.32,176.63 1149.12,181.84 1149.93,187.12 1150.73,192.48 1151.53,197.89 1152.34,203.37 1153.14,208.92 1153.94,214.52 1154.75,220.18 1155.55,225.89 1156.36,231.66 1157.16,237.47 1157.96,243.34 1158.77,249.25 1159.57,255.2 1160.38,261.19 1161.18,267.22 1161.98,273.29 1162.79,279.39 1163.59,285.52 1164.4,291.67 1165.2,297.85 1166,304.05 1166.81,310.28 1167.61,316.51 1168.41,322.76 1169.22,329.02 1170.02,335.29 1170.83,341.57 1171.63,347.84 1172.43,354.12 1173.24,360.39 1174.04,366.65 1174.85,372.91 1175.65,379.15 1176.45,385.38 1177.26,391.59 1178.06,397.78 1178.86,403.95 1179.67,410.09 1180.47,416.2 1181.28,422.28 1182.08,428.33 1182.88,434.34 1183.69,440.31 1184.49,446.24 1185.3,452.13 1186.1,457.97 1186.9,463.76 1187.71,469.49 1188.51,475.18 1189.32,480.81 1190.12,486.37 1190.92,491.88 1191.73,497.33 1192.53,502.71 1193.33,508.03 1194.14,513.27 1194.94,518.45 1195.75,523.55 1196.55,528.58 1197.35,533.53 1198.16,538.4 1198.96,543.2 1199.77,547.91 1200.57,552.54" fill="none" stroke="#22c022" stroke-width="3.2" stroke-linejoin="round" stroke-dasharray="18.38 12.36" stroke-dashoffset="-1.6" stroke-linecap="round"/>
<polyline points="150.86,644.07 156.98,643.98 163.11,643.9 169.24,643.81 175.36,643.72 181.49,643.63 187.61,643.53 193.74,643.44 199.87,643.34 205.99,643.24 212.12,643.13 218.24,643.03 224.37,642.92 230.49,642.81 236.62,642.69 242.75,642.57 248.87,642.45 255,642.33 261.12,642.2 267.25,642.07 273.37,641.94 279.5,641.8 285.63,641.66 291.75,641.52 297.88,641.37 304,641.21 310.13,641.06 316.25,640.9 322.38,640.73 328.51,640.56 334.63,640.39 340.76,640.21 346.88,640.02 353.01,639.83 359.13,639.64 365.26,639.43 371.39,639.23 377.51,639.01 383.64,638.79 389.76,638.57 395.89,638.33 402.02,638.09 408.14,637.85 414.27,637.59 420.39,637.33 426.52,637.06 432.64,636.78 438.77,636.49 444.9,636.19 451.02,635.88 457.15,635.57 463.27,635.24 469.4,634.9 475.52,634.55 481.65,634.19 487.78,633.82 493.9,633.43 500.03,633.03 506.15,632.62 512.28,632.19 518.4,631.75 524.53,631.29 530.66,630.81 536.78,630.32 542.91,629.81 549.03,629.29 555.16,628.74 561.28,628.17 567.41,627.59 573.54,626.97 579.66,626.34 585.79,625.68 591.91,625 598.04,624.29 604.17,623.55 610.29,622.79 616.42,621.99 622.54,621.16 628.67,620.3 634.79,619.4 640.92,618.46 647.05,617.48 653.17,616.47 659.3,615.41 665.42,614.3 671.55,613.15 677.67,611.95 683.8,610.69 689.93,609.38 696.05,608.01 702.18,606.57 708.3,605.08 714.43,603.51 720.55,601.87 726.68,600.15 732.81,598.35 738.93,596.46 745.06,594.48 751.18,592.41 757.31,590.23 763.43,587.95 769.56,585.55 775.69,583.03 781.81,580.38 787.94,577.59 794.06,574.66 800.19,571.58 806.32,568.33 812.44,564.91 818.57,561.3 824.69,557.5 830.82,553.49 836.94,549.26 843.07,544.79 849.2,540.07 855.32,535.09 861.45,529.83 867.57,524.26 873.7,518.38 879.82,512.16 880.63,511.31 881.43,510.46 882.24,509.61 883.04,508.75 883.84,507.88 884.65,507 885.45,506.12 886.26,505.23 887.06,504.34 887.86,503.44 888.67,502.53 889.47,501.62 890.27,500.69 891.08,499.77 891.88,498.83 892.69,497.89 893.49,496.94 894.29,495.98 895.1,495.02 895.9,494.05 896.71,493.07 897.51,492.09 898.31,491.09 899.12,490.09 899.92,489.09 900.73,488.07 901.53,487.05 902.33,486.02 903.14,484.98 903.94,483.93 904.74,482.88 905.55,481.82 906.35,480.75 907.16,479.67 907.96,478.59 908.76,477.49 909.57,476.39 910.37,475.28 911.18,474.16 911.98,473.04 912.78,471.9 913.59,470.76 914.39,469.61 915.19,468.44 916,467.27 916.8,466.1 917.61,464.91 918.41,463.71 919.21,462.51 920.02,461.29 920.82,460.07 921.63,458.84 922.43,457.6 923.23,456.35 924.04,455.09 924.84,453.82 925.65,452.54 926.45,451.25 927.25,449.95 928.06,448.65 928.86,447.33 929.66,446 930.47,444.67 931.27,443.32 932.08,441.96 932.88,440.6 933.68,439.22 934.49,437.83 935.29,436.44 936.1,435.03 936.9,433.61 937.7,432.18 938.51,430.74 939.31,429.29 940.11,427.83 940.92,426.36 941.72,424.88 942.53,423.39 943.33,421.89 944.13,420.37 944.94,418.85 945.74,417.31 946.55,415.77 947.35,414.21 948.15,412.64 948.96,411.06 949.76,409.47 950.57,407.86 951.37,406.25 952.17,404.62 952.98,402.98 953.78,401.33 954.58,399.67 955.39,398 956.19,396.31 957,394.62 957.8,392.91 958.6,391.19 959.41,389.45 960.21,387.71 961.02,385.95 961.82,384.18 962.62,382.4 963.43,380.61 964.23,378.8 965.03,376.98 965.84,375.15 966.64,373.31 967.45,371.45 968.25,369.58 969.05,367.7 969.86,365.81 970.66,363.9 971.47,361.98 972.27,360.05 973.07,358.1 973.88,356.14 974.68,354.17 975.49,352.19 976.29,350.2 977.09,348.19 977.9,346.16 978.7,344.13 979.5,342.08 980.31,340.02 981.11,337.95 981.92,335.86 982.72,333.76 983.52,331.65 984.33,329.52 985.13,327.38 985.94,325.23 986.74,323.07 987.54,320.89 988.35,318.7 989.15,316.5 989.95,314.28 990.76,312.05 991.56,309.81 992.37,307.56 993.17,305.29 993.97,303.01 994.78,300.72 995.58,298.41 996.39,296.09 997.19,293.76 997.99,291.42 998.8,289.07 999.6,286.7 1000.41,284.32 1001.21,281.93 1002.01,279.52 1002.82,277.11 1003.62,274.68 1004.42,272.24 1005.23,269.79 1006.03,267.33 1006.84,264.85 1007.64,262.37 1008.44,259.87 1009.25,257.36 1010.05,254.85 1010.86,252.32 1011.66,249.78 1012.46,247.23 1013.27,244.67 1014.07,242.1 1014.87,239.52 1015.68,236.93 1016.48,234.33 1017.29,231.72 1018.09,229.1 1018.89,226.48 1019.7,223.84 1020.5,221.2 1021.31,218.55 1022.11,215.89 1022.91,213.22 1023.72,210.55 1024.52,207.87 1025.33,205.18 1026.13,202.49 1026.93,199.79 1027.74,197.09 1028.54,194.38 1029.34,191.66 1030.15,188.94 1030.95,186.22 1031.76,183.49 1032.56,180.76 1033.36,178.02 1034.17,175.29 1034.97,172.55 1035.78,169.81 1036.58,167.06 1037.38,164.32 1038.19,161.58 1038.99,158.84 1039.79,156.09 1040.6,153.35 1041.4,150.61 1042.21,147.88 1043.01,145.14 1043.81,142.41 1044.62,139.68 1045.42,136.96 1046.23,134.24 1047.03,131.53 1047.83,128.83 1048.64,126.13 1049.44,123.44 1050.25,120.76 1051.05,118.09 1051.85,115.43 1052.66,112.77 1053.46,110.13 1054.26,107.51 1055.07,104.89 1055.87,102.29 1056.68,99.7 1057.48,97.13 1058.28,94.58 1059.09,92.04 1059.89,89.52 1060.7,87.02 1061.5,84.54 1062.3,82.08 1063.11,79.64 1063.91,77.22 1064.71,74.83 1065.52,72.46 1066.32,70.12 1067.13,67.8 1067.93,65.51 1068.73,63.25 1069.54,61.02 1070.34,58.82 1071.15,56.65 1071.95,54.51 1072.75,52.41 1073.56,50.34 1074.36,48.31 1075.17,46.32 1075.97,44.36 1076.77,42.45 1077.58,40.57 1078.38,38.74 1079.18,36.95 1079.99,35.2 1080.79,33.5 1081.6,31.85 1082.4,30.24 1083.2,28.68 1084.01,27.18 1084.81,25.72 1085.62,24.32 1086.42,22.97 1087.22,21.68 1088.03,20.44 1088.83,19.26 1089.63,18.14 1090.44,17.08 1091.24,16.09 1092.05,15.15 1092.85,14.28 1093.65,13.48 1094.46,12.74 1095.26,12.07 1096.07,11.47 1096.87,10.93 1097.67,10.47 1098.48,10.09 1099.28,9.77 1100.09,9.54 1100.89,9.37 1101.69,9.29 1102.5,9.28 1103.3,9.36 1104.1,9.51 1104.91,9.75 1105.71,10.06 1106.52,10.47 1107.32,10.95 1108.12,11.53 1108.93,12.19 1109.73,12.94 1110.54,13.77 1111.34,14.7 1112.14,15.71 1112.95,16.82 1113.75,18.02 1114.56,19.31 1115.36,20.69 1116.16,22.17 1116.97,23.75 1117.77,25.41 1118.57,27.18 1119.38,29.04 1120.18,30.99 1120.99,33.04 1121.79,35.19 1122.59,37.44 1123.4,39.78 1124.2,42.23 1125.01,44.77 1125.81,47.4 1126.61,50.14 1127.42,52.97 1128.22,55.9 1129.02,58.93 1129.83,62.06 1130.63,65.28 1131.44,68.6 1132.24,72.01 1133.04,75.52 1133.85,79.13 1134.65,82.83 1135.46,86.62 1136.26,90.51 1137.06,94.48 1137.87,98.55 1138.67,102.71 1139.48,106.96 1140.28,111.3 1141.08,115.72 1141.89,120.23 1142.69,124.83 1143.49,129.5 1144.3,134.26 1145.1,139.1 1145.91,144.02 1146.71,149.01 1147.51,154.08 1148.32,159.22 1149.12,164.43 1149.93,169.72 1150.73,175.07 1151.53,180.49 1152.34,185.97 1153.14,191.51 1153.94,197.11 1154.75,202.77 1155.55,208.48 1156.36,214.25 1157.16,220.07 1157.96,225.93 1158.77,231.84 1159.57,237.79 1160.38,243.79 1161.18,249.82 1161.98,255.88 1162.79,261.98 1163.59,268.11 1164.4,274.27 1165.2,280.45 1166,286.65 1166.81,292.87 1167.61,299.11 1168.41,305.36 1169.22,311.62 1170.02,317.89 1170.83,324.16 1171.63,330.43 1172.43,336.71 1173.24,342.98 1174.04,349.25 1174.85,355.5 1175.65,361.74 1176.45,367.97 1177.26,374.18 1178.06,380.37 1178.86,386.54 1179.67,392.68 1180.47,398.79 1181.28,404.88 1182.08,410.92 1182.88,416.93 1183.69,422.91 1184.49,428.83 1185.3,434.72 1186.1,440.56 1186.9,446.35 1187.71,452.09 1188.51,457.77 1189.32,463.4 1190.12,468.97 1190.92,474.48 1191.73,479.92 1192.53,485.3 1193.33,490.62 1194.14,495.86 1194.94,501.04 1195.75,506.14 1196.55,511.17 1197.35,516.12 1198.16,521 1198.96,525.79 1199.77,530.5 1200.57,535.14" fill="none" stroke="#ff00ff" stroke-width="3.2" stroke-linejoin="round" stroke-dasharray="10.96 10.98 0.1 11.85" stroke-dashoffset="-1.6" stroke-linecap="round"/>
</g>
<g font-family="Liberation Serif, serif" font-size="22.5" fill="#000" stroke="#000" stroke-width="0.2"><text text-anchor="end" transform="translate(103.8,96.9) scale(0.82,1)">0.0</text><text text-anchor="end" transform="translate(103.8,180.99) scale(0.82,1)">−<tspan dx="1.8">0.1</tspan></text><text text-anchor="end" transform="translate(103.8,265.08) scale(0.82,1)">−<tspan dx="1.8">0.2</tspan></text><text text-anchor="end" transform="translate(103.8,349.17) scale(0.82,1)">−<tspan dx="1.8">0.3</tspan></text><text text-anchor="end" transform="translate(103.8,433.26) scale(0.82,1)">−<tspan dx="1.8">0.4</tspan></text><text text-anchor="end" transform="translate(103.8,517.35) scale(0.82,1)">−<tspan dx="1.8">0.5</tspan></text><text text-anchor="end" transform="translate(103.8,601.44) scale(0.82,1)">−<tspan dx="1.8">0.6</tspan></text><text text-anchor="end" transform="translate(103.8,685.53) scale(0.82,1)">−<tspan dx="1.8">0.7</tspan></text><text text-anchor="middle" transform="translate(120.31,759.6) scale(0.82,1)">−<tspan dx="2.5">7</tspan></text><text text-anchor="middle" transform="translate(236.58,759.6) scale(0.82,1)">−<tspan dx="2.5">6</tspan></text><text text-anchor="middle" transform="translate(352.85,759.6) scale(0.82,1)">−<tspan dx="2.5">5</tspan></text><text text-anchor="middle" transform="translate(469.12,759.6) scale(0.82,1)">−<tspan dx="2.5">4</tspan></text><text text-anchor="middle" transform="translate(585.39,759.6) scale(0.82,1)">−<tspan dx="2.5">3</tspan></text><text text-anchor="middle" transform="translate(701.66,759.6) scale(0.82,1)">−<tspan dx="2.5">2</tspan></text><text text-anchor="middle" transform="translate(817.93,759.6) scale(0.82,1)">−<tspan dx="2.5">1</tspan></text><text text-anchor="middle" transform="translate(934.2,759.6) scale(0.82,1)">0</text></g>
<text font-family="Liberation Serif, serif" font-style="italic" font-size="35.5" transform="translate(6,378.3) scale(0.8,1)">p(x)</text>
<text font-family="Liberation Serif, serif" font-style="italic" font-size="33" transform="translate(530.6,799) scale(0.82,1)">x</text>
<g font-family="Liberation Sans, sans-serif" font-weight="bold"><text font-size="41.2" transform="translate(147.9,60.7) scale(0.78,1)">(</text><text font-size="38.5" transform="translate(161.4,60.7) scale(0.9,1)">a</text><text font-size="41.2" transform="translate(185.6,60.7) scale(0.78,1)">)</text></g>
<g transform="scale(0.7975,1)">
<g stroke="#72cc72" stroke-width="3.3" stroke-linecap="round" stroke-dasharray="0 10.745" fill="none"><line x1="1447.77" y1="15.7" x2="1447.77" y2="725.6"/><line x1="1593.48" y1="15.7" x2="1593.48" y2="725.6"/><line x1="1739.18" y1="15.7" x2="1739.18" y2="725.6"/><line x1="1884.89" y1="15.7" x2="1884.89" y2="725.6"/><line x1="2030.6" y1="15.7" x2="2030.6" y2="725.6"/><line x1="2176.3" y1="15.7" x2="2176.3" y2="725.6"/><line x1="2322.01" y1="15.7" x2="2322.01" y2="725.6"/><line x1="2467.71" y1="15.7" x2="2467.71" y2="725.6"/><line x1="1445.89" y1="16.8" x2="2500.31" y2="16.8"/><line x1="1445.89" y1="99.88" x2="2500.31" y2="99.88"/><line x1="1445.89" y1="182.96" x2="2500.31" y2="182.96"/><line x1="1445.89" y1="266.04" x2="2500.31" y2="266.04"/><line x1="1445.89" y1="349.12" x2="2500.31" y2="349.12"/><line x1="1445.89" y1="432.2" x2="2500.31" y2="432.2"/><line x1="1445.89" y1="515.28" x2="2500.31" y2="515.28"/><line x1="1445.89" y1="598.36" x2="2500.31" y2="598.36"/><line x1="1445.89" y1="681.44" x2="2500.31" y2="681.44"/></g>
</g>
<rect x="1152.2" y="13.5" width="841.8" height="712.1" fill="none" stroke="#626262" stroke-width="2.4" stroke-linejoin="round"/>
<g stroke="#626262" stroke-width="2"><line x1="1142.7" y1="16.8" x2="1152.2" y2="16.8"/><line x1="1142.7" y1="99.88" x2="1152.2" y2="99.88"/><line x1="1142.7" y1="182.96" x2="1152.2" y2="182.96"/><line x1="1142.7" y1="266.04" x2="1152.2" y2="266.04"/><line x1="1142.7" y1="349.12" x2="1152.2" y2="349.12"/><line x1="1142.7" y1="432.2" x2="1152.2" y2="432.2"/><line x1="1142.7" y1="515.28" x2="1152.2" y2="515.28"/><line x1="1142.7" y1="598.36" x2="1152.2" y2="598.36"/><line x1="1142.7" y1="681.44" x2="1152.2" y2="681.44"/><line x1="1154.6" y1="725.6" x2="1154.6" y2="737.6"/><line x1="1270.8" y1="725.6" x2="1270.8" y2="737.6"/><line x1="1387" y1="725.6" x2="1387" y2="737.6"/><line x1="1503.2" y1="725.6" x2="1503.2" y2="737.6"/><line x1="1619.4" y1="725.6" x2="1619.4" y2="737.6"/><line x1="1735.6" y1="725.6" x2="1735.6" y2="737.6"/><line x1="1851.8" y1="725.6" x2="1851.8" y2="737.6"/><line x1="1968" y1="725.6" x2="1968" y2="737.6"/></g>
<g transform="scale(0.7975,1)">
<g fill="#000"><circle cx="1447.34" cy="643.97" r="6.2"/><circle cx="1505.04" cy="643.11" r="6.2"/><circle cx="1555.89" cy="642.17" r="6.2"/><circle cx="1612.86" cy="640.84" r="6.2"/><circle cx="1669.25" cy="639.15" r="6.2"/><circle cx="1726.36" cy="636.9" r="6.2"/><circle cx="1778.09" cy="634.22" r="6.2"/><circle cx="1832" cy="630.51" r="6.2"/><circle cx="1888.97" cy="625.08" r="6.2"/><circle cx="1945.65" cy="617.38" r="6.2"/><circle cx="2002.04" cy="606.14" r="6.2"/><circle cx="2053.03" cy="591.08" r="6.2"/><circle cx="2111.75" cy="564.15" r="6.2"/><circle cx="2139.29" cy="546.09" r="6.2"/><circle cx="2168.14" cy="521.76" r="6.2"/><circle cx="2195.97" cy="491.36" r="6.2"/><circle cx="2223.8" cy="452.02" r="6.2"/><circle cx="2248.57" cy="407.47" r="6.2"/><circle cx="2273.34" cy="352.06" r="6.2"/><circle cx="2288.35" cy="312.68" r="6.2"/><circle cx="2303.36" cy="268.94" r="6.2"/><circle cx="2318.36" cy="221.38" r="6.2"/><circle cx="2333.23" cy="171.8" r="6.2"/><circle cx="2345.76" cy="129.79" r="6.2"/><circle cx="2358.87" cy="88.13" r="6.2"/><circle cx="2371.84" cy="52.64" r="6.2"/><circle cx="2383.93" cy="28.51" r="6.2"/><circle cx="2387.57" cy="23.55" r="6.2"/><circle cx="2391.07" cy="19.99" r="6.2"/><circle cx="2394.57" cy="17.72" r="6.2"/><circle cx="2398.06" cy="16.81" r="6.2"/><circle cx="2401.56" cy="17.38" r="6.2"/><circle cx="2405.06" cy="19.5" r="6.2"/><circle cx="2408.56" cy="23.26" r="6.2"/><circle cx="2412.05" cy="28.72" r="6.2"/><circle cx="2412.59" cy="30.93" r="6.2"/><circle cx="2419.73" cy="48.82" r="6.2"/><circle cx="2427.16" cy="75.52" r="6.2"/><circle cx="2434.74" cy="111.05" r="6.2"/><circle cx="2442.02" cy="152.54" r="6.2"/><circle cx="2448.87" cy="197.16" r="6.2"/><circle cx="2455.72" cy="246.01" r="6.2"/><circle cx="2462.42" cy="296.52" r="6.2"/><circle cx="2469.27" cy="349.27" r="6.2"/><circle cx="2475.83" cy="399.28" r="6.2"/><circle cx="2482.53" cy="448.35" r="6.2"/><circle cx="2489.52" cy="495.78" r="6.2"/><circle cx="2496.37" cy="537.17" r="6.2"/></g>
<polyline points="1447.77,652.36 1453.9,652.27 1460.02,652.19 1466.14,652.1 1472.26,652.01 1478.38,651.92 1484.51,651.83 1490.63,651.73 1496.75,651.64 1502.87,651.54 1509,651.43 1515.12,651.33 1521.24,651.22 1527.36,651.11 1533.48,651 1539.61,650.88 1545.73,650.76 1551.85,650.64 1557.97,650.52 1564.09,650.39 1570.22,650.25 1576.34,650.12 1582.46,649.98 1588.58,649.84 1594.7,649.69 1600.83,649.54 1606.95,649.39 1613.07,649.23 1619.19,649.06 1625.31,648.89 1631.44,648.72 1637.56,648.54 1643.68,648.36 1649.8,648.17 1655.92,647.98 1662.05,647.78 1668.17,647.58 1674.29,647.36 1680.41,647.15 1686.54,646.92 1692.66,646.69 1698.78,646.46 1704.9,646.21 1711.02,645.96 1717.15,645.7 1723.27,645.43 1729.39,645.16 1735.51,644.87 1741.63,644.58 1747.76,644.27 1753.88,643.96 1760,643.64 1766.12,643.3 1772.24,642.96 1778.37,642.6 1784.49,642.23 1790.61,641.85 1796.73,641.45 1802.85,641.05 1808.98,640.62 1815.1,640.19 1821.22,639.73 1827.34,639.26 1833.46,638.78 1839.59,638.28 1845.71,637.76 1851.83,637.22 1857.95,636.66 1864.08,636.07 1870.2,635.47 1876.32,634.84 1882.44,634.2 1888.56,633.52 1894.69,632.82 1900.81,632.09 1906.93,631.33 1913.05,630.54 1919.17,629.72 1925.3,628.87 1931.42,627.98 1937.54,627.06 1943.66,626.1 1949.78,625.09 1955.91,624.04 1962.03,622.95 1968.15,621.81 1974.27,620.62 1980.39,619.38 1986.52,618.09 1992.64,616.73 1998.76,615.32 2004.88,613.83 2011,612.29 2017.13,610.66 2023.25,608.97 2029.37,607.19 2035.49,605.32 2041.62,603.37 2047.74,601.32 2053.86,599.17 2059.98,596.91 2066.1,594.54 2072.23,592.05 2078.35,589.43 2084.47,586.68 2090.59,583.79 2096.71,580.74 2102.84,577.53 2108.96,574.15 2115.08,570.58 2121.2,566.83 2127.32,562.87 2133.45,558.69 2139.57,554.27 2145.69,549.61 2151.81,544.69 2157.93,539.49 2164.06,533.99 2170.18,528.18 2176.3,522.03 2177.1,521.2 2177.91,520.36 2178.71,519.51 2179.51,518.66 2180.32,517.8 2181.12,516.94 2181.92,516.07 2182.73,515.19 2183.53,514.31 2184.33,513.42 2185.14,512.52 2185.94,511.62 2186.74,510.71 2187.55,509.79 2188.35,508.87 2189.16,507.94 2189.96,507 2190.76,506.05 2191.57,505.1 2192.37,504.14 2193.17,503.18 2193.98,502.2 2194.78,501.22 2195.58,500.23 2196.39,499.24 2197.19,498.24 2197.99,497.23 2198.8,496.21 2199.6,495.18 2200.4,494.15 2201.21,493.11 2202.01,492.06 2202.81,491 2203.62,489.94 2204.42,488.87 2205.22,487.78 2206.03,486.7 2206.83,485.6 2207.63,484.49 2208.44,483.38 2209.24,482.26 2210.04,481.13 2210.85,479.99 2211.65,478.84 2212.45,477.69 2213.26,476.52 2214.06,475.35 2214.86,474.17 2215.67,472.98 2216.47,471.78 2217.27,470.57 2218.08,469.36 2218.88,468.13 2219.68,466.89 2220.49,465.65 2221.29,464.39 2222.09,463.13 2222.9,461.86 2223.7,460.58 2224.5,459.28 2225.31,457.98 2226.11,456.67 2226.91,455.35 2227.72,454.02 2228.52,452.68 2229.32,451.33 2230.13,449.97 2230.93,448.6 2231.73,447.22 2232.54,445.83 2233.34,444.43 2234.14,443.02 2234.95,441.6 2235.75,440.16 2236.56,438.72 2237.36,437.27 2238.16,435.81 2238.97,434.33 2239.77,432.85 2240.57,431.35 2241.38,429.85 2242.18,428.33 2242.98,426.8 2243.79,425.26 2244.59,423.71 2245.39,422.15 2246.2,420.57 2247,418.99 2247.8,417.39 2248.61,415.79 2249.41,414.17 2250.21,412.54 2251.02,410.9 2251.82,409.24 2252.62,407.58 2253.43,405.9 2254.23,404.21 2255.03,402.51 2255.84,400.8 2256.64,399.08 2257.44,397.34 2258.25,395.59 2259.05,393.83 2259.85,392.06 2260.66,390.28 2261.46,388.48 2262.26,386.67 2263.07,384.85 2263.87,383.01 2264.67,381.17 2265.48,379.31 2266.28,377.44 2267.08,375.55 2267.89,373.66 2268.69,371.75 2269.49,369.83 2270.3,367.89 2271.1,365.95 2271.9,363.99 2272.71,362.02 2273.51,360.03 2274.31,358.03 2275.12,356.02 2275.92,354 2276.72,351.96 2277.53,349.91 2278.33,347.85 2279.13,345.78 2279.94,343.69 2280.74,341.59 2281.54,339.48 2282.35,337.35 2283.15,335.21 2283.95,333.06 2284.76,330.9 2285.56,328.72 2286.37,326.53 2287.17,324.33 2287.97,322.12 2288.78,319.89 2289.58,317.65 2290.38,315.4 2291.19,313.13 2291.99,310.85 2292.79,308.56 2293.6,306.26 2294.4,303.95 2295.2,301.62 2296.01,299.28 2296.81,296.93 2297.61,294.57 2298.42,292.19 2299.22,289.81 2300.02,287.41 2300.83,285 2301.63,282.58 2302.43,280.14 2303.24,277.7 2304.04,275.24 2304.84,272.78 2305.65,270.3 2306.45,267.81 2307.25,265.31 2308.06,262.8 2308.86,260.28 2309.66,257.75 2310.47,255.22 2311.27,252.67 2312.07,250.11 2312.88,247.54 2313.68,244.96 2314.48,242.38 2315.29,239.78 2316.09,237.18 2316.89,234.57 2317.7,231.95 2318.5,229.32 2319.3,226.69 2320.11,224.05 2320.91,221.4 2321.71,218.75 2322.52,216.08 2323.32,213.42 2324.12,210.75 2324.93,208.07 2325.73,205.38 2326.53,202.7 2327.34,200.01 2328.14,197.31 2328.94,194.61 2329.75,191.91 2330.55,189.21 2331.35,186.5 2332.16,183.79 2332.96,181.08 2333.76,178.37 2334.57,175.66 2335.37,172.95 2336.18,170.25 2336.98,167.54 2337.78,164.83 2338.59,162.13 2339.39,159.42 2340.19,156.73 2341,154.03 2341.8,151.34 2342.6,148.66 2343.41,145.98 2344.21,143.31 2345.01,140.64 2345.82,137.99 2346.62,135.34 2347.42,132.7 2348.23,130.07 2349.03,127.45 2349.83,124.84 2350.64,122.24 2351.44,119.66 2352.24,117.09 2353.05,114.53 2353.85,111.99 2354.65,109.47 2355.46,106.96 2356.26,104.47 2357.06,102 2357.87,99.55 2358.67,97.12 2359.47,94.71 2360.28,92.32 2361.08,89.96 2361.88,87.62 2362.69,85.3 2363.49,83.01 2364.29,80.75 2365.1,78.52 2365.9,76.31 2366.7,74.14 2367.51,72 2368.31,69.89 2369.11,67.81 2369.92,65.77 2370.72,63.76 2371.52,61.79 2372.33,59.86 2373.13,57.96 2373.93,56.11 2374.74,54.3 2375.54,52.53 2376.34,50.81 2377.15,49.13 2377.95,47.49 2378.75,45.9 2379.56,44.37 2380.36,42.88 2381.16,41.44 2381.97,40.05 2382.77,38.72 2383.57,37.44 2384.38,36.22 2385.18,35.06 2385.99,33.95 2386.79,32.91 2387.59,31.92 2388.4,31 2389.2,30.14 2390,29.34 2390.81,28.61 2391.61,27.95 2392.41,27.36 2393.22,26.83 2394.02,26.38 2394.82,25.99 2395.63,25.68 2396.43,25.45 2397.23,25.29 2398.04,25.2 2398.84,25.2 2399.64,25.27 2400.45,25.42 2401.25,25.66 2402.05,25.97 2402.86,26.37 2403.66,26.85 2404.46,27.42 2405.27,28.07 2406.07,28.81 2406.87,29.63 2407.68,30.55 2408.48,31.55 2409.28,32.64 2410.09,33.83 2410.89,35.1 2411.69,36.47 2412.5,37.93 2413.3,39.49 2414.1,41.13 2414.91,42.88 2415.71,44.71 2416.51,46.65 2417.32,48.67 2418.12,50.8 2418.92,53.02 2419.73,55.33 2420.53,57.74 2421.33,60.25 2422.14,62.86 2422.94,65.56 2423.74,68.36 2424.55,71.26 2425.35,74.25 2426.15,77.34 2426.96,80.52 2427.76,83.8 2428.56,87.17 2429.37,90.64 2430.17,94.2 2430.97,97.86 2431.78,101.61 2432.58,105.45 2433.39,109.38 2434.19,113.4 2434.99,117.51 2435.8,121.7 2436.6,125.99 2437.4,130.36 2438.21,134.81 2439.01,139.35 2439.81,143.97 2440.62,148.67 2441.42,153.46 2442.22,158.31 2443.03,163.25 2443.83,168.25 2444.63,173.33 2445.44,178.49 2446.24,183.71 2447.04,188.99 2447.85,194.34 2448.65,199.76 2449.45,205.24 2450.26,210.77 2451.06,216.36 2451.86,222.01 2452.67,227.7 2453.47,233.45 2454.27,239.24 2455.08,245.08 2455.88,250.96 2456.68,256.88 2457.49,262.84 2458.29,268.84 2459.09,274.86 2459.9,280.92 2460.7,287 2461.5,293.1 2462.31,299.23 2463.11,305.38 2463.91,311.54 2464.72,317.72 2465.52,323.9 2466.32,330.09 2467.13,336.29 2467.93,342.49 2468.73,348.69 2469.54,354.89 2470.34,361.08 2471.14,367.26 2471.95,373.43 2472.75,379.58 2473.55,385.72 2474.36,391.83 2475.16,397.92 2475.96,403.99 2476.77,410.03 2477.57,416.04 2478.37,422.01 2479.18,427.95 2479.98,433.85 2480.78,439.71 2481.59,445.53 2482.39,451.29 2483.2,457.01 2484,462.68 2484.8,468.3 2485.61,473.86 2486.41,479.36 2487.21,484.8 2488.02,490.19 2488.82,495.5 2489.62,500.75 2490.43,505.94 2491.23,511.05 2492.03,516.09 2492.84,521.06 2493.64,525.95 2494.44,530.76 2495.25,535.5 2496.05,540.16 2496.85,544.74" fill="none" stroke="#cd7f32" stroke-width="2.6" stroke-linejoin="round"/>
<polyline points="1447.77,669.8 1453.9,669.72 1460.02,669.64 1466.14,669.55 1472.26,669.46 1478.38,669.37 1484.51,669.28 1490.63,669.18 1496.75,669.08 1502.87,668.98 1509,668.88 1515.12,668.78 1521.24,668.67 1527.36,668.56 1533.48,668.44 1539.61,668.33 1545.73,668.21 1551.85,668.09 1557.97,667.96 1564.09,667.83 1570.22,667.7 1576.34,667.57 1582.46,667.43 1588.58,667.28 1594.7,667.14 1600.83,666.99 1606.95,666.83 1613.07,666.67 1619.19,666.51 1625.31,666.34 1631.44,666.17 1637.56,665.99 1643.68,665.81 1649.8,665.62 1655.92,665.43 1662.05,665.23 1668.17,665.02 1674.29,664.81 1680.41,664.59 1686.54,664.37 1692.66,664.14 1698.78,663.9 1704.9,663.66 1711.02,663.41 1717.15,663.15 1723.27,662.88 1729.39,662.6 1735.51,662.32 1741.63,662.02 1747.76,661.72 1753.88,661.41 1760,661.08 1766.12,660.75 1772.24,660.4 1778.37,660.04 1784.49,659.68 1790.61,659.29 1796.73,658.9 1802.85,658.49 1808.98,658.07 1815.1,657.63 1821.22,657.18 1827.34,656.71 1833.46,656.23 1839.59,655.72 1845.71,655.2 1851.83,654.66 1857.95,654.1 1864.08,653.52 1870.2,652.92 1876.32,652.29 1882.44,651.64 1888.56,650.97 1894.69,650.27 1900.81,649.54 1906.93,648.78 1913.05,647.99 1919.17,647.17 1925.3,646.32 1931.42,645.43 1937.54,644.51 1943.66,643.54 1949.78,642.54 1955.91,641.49 1962.03,640.4 1968.15,639.26 1974.27,638.07 1980.39,636.83 1986.52,635.53 1992.64,634.18 1998.76,632.76 2004.88,631.28 2011,629.73 2017.13,628.11 2023.25,626.41 2029.37,624.63 2035.49,622.77 2041.62,620.82 2047.74,618.77 2053.86,616.62 2059.98,614.36 2066.1,611.99 2072.23,609.5 2078.35,606.88 2084.47,604.13 2090.59,601.23 2096.71,598.18 2102.84,594.97 2108.96,591.59 2115.08,588.03 2121.2,584.28 2127.32,580.31 2133.45,576.13 2139.57,571.72 2145.69,567.06 2151.81,562.14 2157.93,556.94 2164.06,551.44 2170.18,545.63 2176.3,539.48 2177.1,538.64 2177.91,537.81 2178.71,536.96 2179.51,536.11 2180.32,535.25 2181.12,534.39 2181.92,533.52 2182.73,532.64 2183.53,531.76 2184.33,530.87 2185.14,529.97 2185.94,529.06 2186.74,528.15 2187.55,527.24 2188.35,526.31 2189.16,525.38 2189.96,524.44 2190.76,523.5 2191.57,522.55 2192.37,521.59 2193.17,520.62 2193.98,519.65 2194.78,518.67 2195.58,517.68 2196.39,516.69 2197.19,515.68 2197.99,514.67 2198.8,513.65 2199.6,512.63 2200.4,511.6 2201.21,510.55 2202.01,509.51 2202.81,508.45 2203.62,507.38 2204.42,506.31 2205.22,505.23 2206.03,504.14 2206.83,503.05 2207.63,501.94 2208.44,500.83 2209.24,499.71 2210.04,498.58 2210.85,497.44 2211.65,496.29 2212.45,495.14 2213.26,493.97 2214.06,492.8 2214.86,491.62 2215.67,490.43 2216.47,489.23 2217.27,488.02 2218.08,486.8 2218.88,485.58 2219.68,484.34 2220.49,483.1 2221.29,481.84 2222.09,480.58 2222.9,479.31 2223.7,478.02 2224.5,476.73 2225.31,475.43 2226.11,474.12 2226.91,472.8 2227.72,471.47 2228.52,470.13 2229.32,468.78 2230.13,467.42 2230.93,466.05 2231.73,464.67 2232.54,463.28 2233.34,461.88 2234.14,460.46 2234.95,459.04 2235.75,457.61 2236.56,456.17 2237.36,454.72 2238.16,453.25 2238.97,451.78 2239.77,450.29 2240.57,448.8 2241.38,447.29 2242.18,445.77 2242.98,444.25 2243.79,442.71 2244.59,441.16 2245.39,439.59 2246.2,438.02 2247,436.44 2247.8,434.84 2248.61,433.23 2249.41,431.62 2250.21,429.99 2251.02,428.34 2251.82,426.69 2252.62,425.03 2253.43,423.35 2254.23,421.66 2255.03,419.96 2255.84,418.25 2256.64,416.52 2257.44,414.79 2258.25,413.04 2259.05,411.28 2259.85,409.51 2260.66,407.72 2261.46,405.93 2262.26,404.12 2263.07,402.3 2263.87,400.46 2264.67,398.61 2265.48,396.76 2266.28,394.89 2267.08,393 2267.89,391.11 2268.69,389.2 2269.49,387.27 2270.3,385.34 2271.1,383.39 2271.9,381.43 2272.71,379.46 2273.51,377.48 2274.31,375.48 2275.12,373.47 2275.92,371.45 2276.72,369.41 2277.53,367.36 2278.33,365.3 2279.13,363.23 2279.94,361.14 2280.74,359.04 2281.54,356.93 2282.35,354.8 2283.15,352.66 2283.95,350.51 2284.76,348.35 2285.56,346.17 2286.37,343.98 2287.17,341.78 2287.97,339.56 2288.78,337.34 2289.58,335.1 2290.38,332.84 2291.19,330.58 2291.99,328.3 2292.79,326.01 2293.6,323.71 2294.4,321.39 2295.2,319.07 2296.01,316.73 2296.81,314.38 2297.61,312.01 2298.42,309.64 2299.22,307.25 2300.02,304.85 2300.83,302.44 2301.63,300.02 2302.43,297.59 2303.24,295.14 2304.04,292.69 2304.84,290.22 2305.65,287.75 2306.45,285.26 2307.25,282.76 2308.06,280.25 2308.86,277.73 2309.66,275.2 2310.47,272.66 2311.27,270.11 2312.07,267.55 2312.88,264.99 2313.68,262.41 2314.48,259.82 2315.29,257.23 2316.09,254.63 2316.89,252.02 2317.7,249.4 2318.5,246.77 2319.3,244.14 2320.11,241.49 2320.91,238.85 2321.71,236.19 2322.52,233.53 2323.32,230.86 2324.12,228.19 2324.93,225.51 2325.73,222.83 2326.53,220.14 2327.34,217.45 2328.14,214.76 2328.94,212.06 2329.75,209.36 2330.55,206.65 2331.35,203.95 2332.16,201.24 2332.96,198.53 2333.76,195.82 2334.57,193.11 2335.37,190.4 2336.18,187.69 2336.98,184.98 2337.78,182.28 2338.59,179.57 2339.39,176.87 2340.19,174.17 2341,171.48 2341.8,168.79 2342.6,166.11 2343.41,163.43 2344.21,160.75 2345.01,158.09 2345.82,155.43 2346.62,152.78 2347.42,150.14 2348.23,147.51 2349.03,144.89 2349.83,142.29 2350.64,139.69 2351.44,137.11 2352.24,134.54 2353.05,131.98 2353.85,129.44 2354.65,126.92 2355.46,124.41 2356.26,121.92 2357.06,119.45 2357.87,117 2358.67,114.57 2359.47,112.16 2360.28,109.77 2361.08,107.4 2361.88,105.06 2362.69,102.75 2363.49,100.46 2364.29,98.2 2365.1,95.97 2365.9,93.76 2366.7,91.59 2367.51,89.44 2368.31,87.33 2369.11,85.26 2369.92,83.21 2370.72,81.21 2371.52,79.24 2372.33,77.3 2373.13,75.41 2373.93,73.56 2374.74,71.75 2375.54,69.98 2376.34,68.25 2377.15,66.57 2377.95,64.94 2378.75,63.35 2379.56,61.81 2380.36,60.32 2381.16,58.89 2381.97,57.5 2382.77,56.17 2383.57,54.89 2384.38,53.67 2385.18,52.51 2385.99,51.4 2386.79,50.35 2387.59,49.37 2388.4,48.44 2389.2,47.58 2390,46.79 2390.81,46.06 2391.61,45.4 2392.41,44.8 2393.22,44.28 2394.02,43.82 2394.82,43.44 2395.63,43.13 2396.43,42.89 2397.23,42.73 2398.04,42.65 2398.84,42.64 2399.64,42.72 2400.45,42.87 2401.25,43.1 2402.05,43.42 2402.86,43.81 2403.66,44.3 2404.46,44.86 2405.27,45.51 2406.07,46.25 2406.87,47.08 2407.68,47.99 2408.48,49 2409.28,50.09 2410.09,51.28 2410.89,52.55 2411.69,53.92 2412.5,55.38 2413.3,56.93 2414.1,58.58 2414.91,60.32 2415.71,62.16 2416.51,64.09 2417.32,66.12 2418.12,68.24 2418.92,70.46 2419.73,72.78 2420.53,75.19 2421.33,77.7 2422.14,80.31 2422.94,83.01 2423.74,85.81 2424.55,88.7 2425.35,91.7 2426.15,94.78 2426.96,97.97 2427.76,101.25 2428.56,104.62 2429.37,108.09 2430.17,111.65 2430.97,115.3 2431.78,119.05 2432.58,122.89 2433.39,126.82 2434.19,130.84 2434.99,134.95 2435.8,139.15 2436.6,143.44 2437.4,147.81 2438.21,152.26 2439.01,156.8 2439.81,161.42 2440.62,166.12 2441.42,170.9 2442.22,175.76 2443.03,180.69 2443.83,185.7 2444.63,190.78 2445.44,195.93 2446.24,201.15 2447.04,206.44 2447.85,211.79 2448.65,217.21 2449.45,222.68 2450.26,228.22 2451.06,233.81 2451.86,239.45 2452.67,245.15 2453.47,250.9 2454.27,256.69 2455.08,262.53 2455.88,268.41 2456.68,274.33 2457.49,280.29 2458.29,286.28 2459.09,292.31 2459.9,298.36 2460.7,304.45 2461.5,310.55 2462.31,316.68 2463.11,322.82 2463.91,328.99 2464.72,335.16 2465.52,341.35 2466.32,347.54 2467.13,353.74 2467.93,359.94 2468.73,366.14 2469.54,372.33 2470.34,378.52 2471.14,384.7 2471.95,390.87 2472.75,397.03 2473.55,403.16 2474.36,409.28 2475.16,415.37 2475.96,421.44 2476.77,427.48 2477.57,433.49 2478.37,439.46 2479.18,445.4 2479.98,451.3 2480.78,457.16 2481.59,462.97 2482.39,468.74 2483.2,474.46 2484,480.13 2484.8,485.75 2485.61,491.31 2486.41,496.81 2487.21,502.25 2488.02,507.63 2488.82,512.95 2489.62,518.2 2490.43,523.38 2491.23,528.49 2492.03,533.54 2492.84,538.5 2493.64,543.4 2494.44,548.21 2495.25,552.95 2496.05,557.61 2496.85,562.18" fill="none" stroke="#ff0000" stroke-width="3.2" stroke-linejoin="round" stroke-dasharray="33.79 12.29" stroke-dashoffset="-1.6" stroke-linecap="round"/>
<polyline points="1447.77,687.33 1453.9,687.25 1460.02,687.17 1466.14,687.08 1472.26,686.99 1478.38,686.9 1484.51,686.81 1490.63,686.71 1496.75,686.61 1502.87,686.51 1509,686.41 1515.12,686.31 1521.24,686.2 1527.36,686.09 1533.48,685.97 1539.61,685.86 1545.73,685.74 1551.85,685.62 1557.97,685.49 1564.09,685.36 1570.22,685.23 1576.34,685.1 1582.46,684.96 1588.58,684.81 1594.7,684.67 1600.83,684.52 1606.95,684.36 1613.07,684.2 1619.19,684.04 1625.31,683.87 1631.44,683.7 1637.56,683.52 1643.68,683.34 1649.8,683.15 1655.92,682.96 1662.05,682.76 1668.17,682.55 1674.29,682.34 1680.41,682.12 1686.54,681.9 1692.66,681.67 1698.78,681.43 1704.9,681.19 1711.02,680.94 1717.15,680.68 1723.27,680.41 1729.39,680.13 1735.51,679.85 1741.63,679.55 1747.76,679.25 1753.88,678.94 1760,678.61 1766.12,678.28 1772.24,677.93 1778.37,677.57 1784.49,677.21 1790.61,676.82 1796.73,676.43 1802.85,676.02 1808.98,675.6 1815.1,675.16 1821.22,674.71 1827.34,674.24 1833.46,673.76 1839.59,673.25 1845.71,672.73 1851.83,672.19 1857.95,671.63 1864.08,671.05 1870.2,670.45 1876.32,669.82 1882.44,669.17 1888.56,668.5 1894.69,667.8 1900.81,667.07 1906.93,666.31 1913.05,665.52 1919.17,664.7 1925.3,663.85 1931.42,662.96 1937.54,662.04 1943.66,661.07 1949.78,660.07 1955.91,659.02 1962.03,657.93 1968.15,656.79 1974.27,655.6 1980.39,654.36 1986.52,653.06 1992.64,651.71 1998.76,650.29 2004.88,648.81 2011,647.26 2017.13,645.64 2023.25,643.94 2029.37,642.16 2035.49,640.3 2041.62,638.35 2047.74,636.3 2053.86,634.15 2059.98,631.89 2066.1,629.52 2072.23,627.03 2078.35,624.41 2084.47,621.66 2090.59,618.76 2096.71,615.71 2102.84,612.5 2108.96,609.12 2115.08,605.56 2121.2,601.8 2127.32,597.84 2133.45,593.66 2139.57,589.25 2145.69,584.59 2151.81,579.67 2157.93,574.47 2164.06,568.97 2170.18,563.16 2176.3,557.01 2177.1,556.17 2177.91,555.34 2178.71,554.49 2179.51,553.64 2180.32,552.78 2181.12,551.92 2181.92,551.05 2182.73,550.17 2183.53,549.29 2184.33,548.4 2185.14,547.5 2185.94,546.59 2186.74,545.68 2187.55,544.77 2188.35,543.84 2189.16,542.91 2189.96,541.97 2190.76,541.03 2191.57,540.08 2192.37,539.12 2193.17,538.15 2193.98,537.18 2194.78,536.2 2195.58,535.21 2196.39,534.22 2197.19,533.21 2197.99,532.2 2198.8,531.18 2199.6,530.16 2200.4,529.13 2201.21,528.08 2202.01,527.04 2202.81,525.98 2203.62,524.91 2204.42,523.84 2205.22,522.76 2206.03,521.67 2206.83,520.58 2207.63,519.47 2208.44,518.36 2209.24,517.24 2210.04,516.11 2210.85,514.97 2211.65,513.82 2212.45,512.67 2213.26,511.5 2214.06,510.33 2214.86,509.15 2215.67,507.96 2216.47,506.76 2217.27,505.55 2218.08,504.33 2218.88,503.11 2219.68,501.87 2220.49,500.63 2221.29,499.37 2222.09,498.11 2222.9,496.84 2223.7,495.55 2224.5,494.26 2225.31,492.96 2226.11,491.65 2226.91,490.33 2227.72,489 2228.52,487.66 2229.32,486.31 2230.13,484.95 2230.93,483.58 2231.73,482.2 2232.54,480.81 2233.34,479.41 2234.14,477.99 2234.95,476.57 2235.75,475.14 2236.56,473.7 2237.36,472.25 2238.16,470.78 2238.97,469.31 2239.77,467.82 2240.57,466.33 2241.38,464.82 2242.18,463.3 2242.98,461.78 2243.79,460.24 2244.59,458.69 2245.39,457.12 2246.2,455.55 2247,453.97 2247.8,452.37 2248.61,450.76 2249.41,449.15 2250.21,447.52 2251.02,445.87 2251.82,444.22 2252.62,442.56 2253.43,440.88 2254.23,439.19 2255.03,437.49 2255.84,435.78 2256.64,434.05 2257.44,432.32 2258.25,430.57 2259.05,428.81 2259.85,427.04 2260.66,425.25 2261.46,423.46 2262.26,421.65 2263.07,419.82 2263.87,417.99 2264.67,416.14 2265.48,414.29 2266.28,412.41 2267.08,410.53 2267.89,408.64 2268.69,406.73 2269.49,404.8 2270.3,402.87 2271.1,400.92 2271.9,398.96 2272.71,396.99 2273.51,395.01 2274.31,393.01 2275.12,391 2275.92,388.98 2276.72,386.94 2277.53,384.89 2278.33,382.83 2279.13,380.76 2279.94,378.67 2280.74,376.57 2281.54,374.46 2282.35,372.33 2283.15,370.19 2283.95,368.04 2284.76,365.88 2285.56,363.7 2286.37,361.51 2287.17,359.31 2287.97,357.09 2288.78,354.87 2289.58,352.63 2290.38,350.37 2291.19,348.11 2291.99,345.83 2292.79,343.54 2293.6,341.24 2294.4,338.92 2295.2,336.6 2296.01,334.26 2296.81,331.91 2297.61,329.54 2298.42,327.17 2299.22,324.78 2300.02,322.38 2300.83,319.97 2301.63,317.55 2302.43,315.12 2303.24,312.67 2304.04,310.22 2304.84,307.75 2305.65,305.28 2306.45,302.79 2307.25,300.29 2308.06,297.78 2308.86,295.26 2309.66,292.73 2310.47,290.19 2311.27,287.64 2312.07,285.08 2312.88,282.52 2313.68,279.94 2314.48,277.35 2315.29,274.76 2316.09,272.16 2316.89,269.55 2317.7,266.93 2318.5,264.3 2319.3,261.67 2320.11,259.02 2320.91,256.38 2321.71,253.72 2322.52,251.06 2323.32,248.39 2324.12,245.72 2324.93,243.04 2325.73,240.36 2326.53,237.67 2327.34,234.98 2328.14,232.29 2328.94,229.59 2329.75,226.89 2330.55,224.18 2331.35,221.48 2332.16,218.77 2332.96,216.06 2333.76,213.35 2334.57,210.64 2335.37,207.93 2336.18,205.22 2336.98,202.51 2337.78,199.81 2338.59,197.1 2339.39,194.4 2340.19,191.7 2341,189.01 2341.8,186.32 2342.6,183.64 2343.41,180.96 2344.21,178.28 2345.01,175.62 2345.82,172.96 2346.62,170.31 2347.42,167.67 2348.23,165.04 2349.03,162.42 2349.83,159.82 2350.64,157.22 2351.44,154.64 2352.24,152.07 2353.05,149.51 2353.85,146.97 2354.65,144.45 2355.46,141.94 2356.26,139.45 2357.06,136.98 2357.87,134.53 2358.67,132.1 2359.47,129.69 2360.28,127.3 2361.08,124.93 2361.88,122.59 2362.69,120.28 2363.49,117.99 2364.29,115.73 2365.1,113.49 2365.9,111.29 2366.7,109.12 2367.51,106.97 2368.31,104.86 2369.11,102.79 2369.92,100.74 2370.72,98.74 2371.52,96.77 2372.33,94.83 2373.13,92.94 2373.93,91.09 2374.74,89.28 2375.54,87.51 2376.34,85.78 2377.15,84.1 2377.95,82.47 2378.75,80.88 2379.56,79.34 2380.36,77.85 2381.16,76.42 2381.97,75.03 2382.77,73.7 2383.57,72.42 2384.38,71.2 2385.18,70.04 2385.99,68.93 2386.79,67.88 2387.59,66.9 2388.4,65.97 2389.2,65.11 2390,64.32 2390.81,63.59 2391.61,62.93 2392.41,62.33 2393.22,61.81 2394.02,61.35 2394.82,60.97 2395.63,60.66 2396.43,60.42 2397.23,60.26 2398.04,60.18 2398.84,60.17 2399.64,60.25 2400.45,60.4 2401.25,60.63 2402.05,60.95 2402.86,61.34 2403.66,61.83 2404.46,62.39 2405.27,63.04 2406.07,63.78 2406.87,64.61 2407.68,65.52 2408.48,66.53 2409.28,67.62 2410.09,68.81 2410.89,70.08 2411.69,71.45 2412.5,72.91 2413.3,74.46 2414.1,76.11 2414.91,77.85 2415.71,79.69 2416.51,81.62 2417.32,83.65 2418.12,85.77 2418.92,87.99 2419.73,90.31 2420.53,92.72 2421.33,95.23 2422.14,97.84 2422.94,100.54 2423.74,103.34 2424.55,106.23 2425.35,109.23 2426.15,112.31 2426.96,115.5 2427.76,118.78 2428.56,122.15 2429.37,125.62 2430.17,129.18 2430.97,132.83 2431.78,136.58 2432.58,140.42 2433.39,144.35 2434.19,148.37 2434.99,152.48 2435.8,156.68 2436.6,160.97 2437.4,165.34 2438.21,169.79 2439.01,174.33 2439.81,178.95 2440.62,183.65 2441.42,188.43 2442.22,193.29 2443.03,198.22 2443.83,203.23 2444.63,208.31 2445.44,213.46 2446.24,218.68 2447.04,223.97 2447.85,229.32 2448.65,234.74 2449.45,240.21 2450.26,245.75 2451.06,251.34 2451.86,256.98 2452.67,262.68 2453.47,268.43 2454.27,274.22 2455.08,280.06 2455.88,285.94 2456.68,291.86 2457.49,297.82 2458.29,303.81 2459.09,309.84 2459.9,315.89 2460.7,321.98 2461.5,328.08 2462.31,334.21 2463.11,340.35 2463.91,346.52 2464.72,352.69 2465.52,358.88 2466.32,365.07 2467.13,371.27 2467.93,377.47 2468.73,383.67 2469.54,389.86 2470.34,396.05 2471.14,402.23 2471.95,408.4 2472.75,414.56 2473.55,420.69 2474.36,426.81 2475.16,432.9 2475.96,438.97 2476.77,445.01 2477.57,451.02 2478.37,456.99 2479.18,462.93 2479.98,468.83 2480.78,474.69 2481.59,480.5 2482.39,486.27 2483.2,491.99 2484,497.66 2484.8,503.28 2485.61,508.84 2486.41,514.34 2487.21,519.78 2488.02,525.16 2488.82,530.48 2489.62,535.73 2490.43,540.91 2491.23,546.02 2492.03,551.07 2492.84,556.03 2493.64,560.93 2494.44,565.74 2495.25,570.48 2496.05,575.14 2496.85,579.71" fill="none" stroke="#000080" stroke-width="3.2" stroke-linejoin="round" stroke-dasharray="18.62 27.2" stroke-dashoffset="-1.6" stroke-linecap="round"/>
<polyline points="1447.77,705.03 1453.9,704.95 1460.02,704.86 1466.14,704.78 1472.26,704.69 1478.38,704.6 1484.51,704.5 1490.63,704.41 1496.75,704.31 1502.87,704.21 1509,704.11 1515.12,704 1521.24,703.89 1527.36,703.78 1533.48,703.67 1539.61,703.55 1545.73,703.44 1551.85,703.31 1557.97,703.19 1564.09,703.06 1570.22,702.93 1576.34,702.79 1582.46,702.65 1588.58,702.51 1594.7,702.36 1600.83,702.21 1606.95,702.06 1613.07,701.9 1619.19,701.74 1625.31,701.57 1631.44,701.39 1637.56,701.22 1643.68,701.03 1649.8,700.85 1655.92,700.65 1662.05,700.45 1668.17,700.25 1674.29,700.04 1680.41,699.82 1686.54,699.6 1692.66,699.37 1698.78,699.13 1704.9,698.88 1711.02,698.63 1717.15,698.37 1723.27,698.1 1729.39,697.83 1735.51,697.54 1741.63,697.25 1747.76,696.95 1753.88,696.63 1760,696.31 1766.12,695.97 1772.24,695.63 1778.37,695.27 1784.49,694.9 1790.61,694.52 1796.73,694.13 1802.85,693.72 1808.98,693.3 1815.1,692.86 1821.22,692.41 1827.34,691.94 1833.46,691.45 1839.59,690.95 1845.71,690.43 1851.83,689.89 1857.95,689.33 1864.08,688.75 1870.2,688.14 1876.32,687.52 1882.44,686.87 1888.56,686.19 1894.69,685.49 1900.81,684.76 1906.93,684.01 1913.05,683.22 1919.17,682.4 1925.3,681.54 1931.42,680.66 1937.54,679.73 1943.66,678.77 1949.78,677.76 1955.91,676.72 1962.03,675.63 1968.15,674.49 1974.27,673.3 1980.39,672.06 1986.52,670.76 1992.64,669.4 1998.76,667.99 2004.88,666.51 2011,664.96 2017.13,663.34 2023.25,661.64 2029.37,659.86 2035.49,658 2041.62,656.04 2047.74,653.99 2053.86,651.84 2059.98,649.59 2066.1,647.22 2072.23,644.72 2078.35,642.11 2084.47,639.35 2090.59,636.46 2096.71,633.41 2102.84,630.2 2108.96,626.82 2115.08,623.26 2121.2,619.5 2127.32,615.54 2133.45,611.36 2139.57,606.95 2145.69,602.29 2151.81,597.37 2157.93,592.16 2164.06,586.67 2170.18,580.85 2176.3,574.7 2177.1,573.87 2177.91,573.03 2178.71,572.19 2179.51,571.34 2180.32,570.48 2181.12,569.61 2181.92,568.74 2182.73,567.87 2183.53,566.98 2184.33,566.09 2185.14,565.19 2185.94,564.29 2186.74,563.38 2187.55,562.46 2188.35,561.54 2189.16,560.61 2189.96,559.67 2190.76,558.73 2191.57,557.77 2192.37,556.81 2193.17,555.85 2193.98,554.88 2194.78,553.89 2195.58,552.91 2196.39,551.91 2197.19,550.91 2197.99,549.9 2198.8,548.88 2199.6,547.85 2200.4,546.82 2201.21,545.78 2202.01,544.73 2202.81,543.68 2203.62,542.61 2204.42,541.54 2205.22,540.46 2206.03,539.37 2206.83,538.27 2207.63,537.17 2208.44,536.05 2209.24,534.93 2210.04,533.8 2210.85,532.66 2211.65,531.52 2212.45,530.36 2213.26,529.2 2214.06,528.02 2214.86,526.84 2215.67,525.65 2216.47,524.45 2217.27,523.25 2218.08,522.03 2218.88,520.8 2219.68,519.57 2220.49,518.32 2221.29,517.07 2222.09,515.8 2222.9,514.53 2223.7,513.25 2224.5,511.96 2225.31,510.66 2226.11,509.35 2226.91,508.02 2227.72,506.69 2228.52,505.35 2229.32,504 2230.13,502.64 2230.93,501.27 2231.73,499.89 2232.54,498.5 2233.34,497.1 2234.14,495.69 2234.95,494.27 2235.75,492.84 2236.56,491.4 2237.36,489.94 2238.16,488.48 2238.97,487 2239.77,485.52 2240.57,484.02 2241.38,482.52 2242.18,481 2242.98,479.47 2243.79,477.93 2244.59,476.38 2245.39,474.82 2246.2,473.25 2247,471.66 2247.8,470.07 2248.61,468.46 2249.41,466.84 2250.21,465.21 2251.02,463.57 2251.82,461.92 2252.62,460.25 2253.43,458.58 2254.23,456.89 2255.03,455.19 2255.84,453.47 2256.64,451.75 2257.44,450.01 2258.25,448.27 2259.05,446.51 2259.85,444.73 2260.66,442.95 2261.46,441.15 2262.26,439.34 2263.07,437.52 2263.87,435.69 2264.67,433.84 2265.48,431.98 2266.28,430.11 2267.08,428.23 2267.89,426.33 2268.69,424.42 2269.49,422.5 2270.3,420.57 2271.1,418.62 2271.9,416.66 2272.71,414.69 2273.51,412.7 2274.31,410.71 2275.12,408.7 2275.92,406.67 2276.72,404.64 2277.53,402.59 2278.33,400.53 2279.13,398.45 2279.94,396.36 2280.74,394.26 2281.54,392.15 2282.35,390.03 2283.15,387.89 2283.95,385.74 2284.76,383.57 2285.56,381.4 2286.37,379.21 2287.17,377 2287.97,374.79 2288.78,372.56 2289.58,370.32 2290.38,368.07 2291.19,365.8 2291.99,363.53 2292.79,361.24 2293.6,358.93 2294.4,356.62 2295.2,354.29 2296.01,351.95 2296.81,349.6 2297.61,347.24 2298.42,344.86 2299.22,342.48 2300.02,340.08 2300.83,337.67 2301.63,335.25 2302.43,332.82 2303.24,330.37 2304.04,327.92 2304.84,325.45 2305.65,322.97 2306.45,320.48 2307.25,317.99 2308.06,315.48 2308.86,312.96 2309.66,310.43 2310.47,307.89 2311.27,305.34 2312.07,302.78 2312.88,300.21 2313.68,297.64 2314.48,295.05 2315.29,292.46 2316.09,289.85 2316.89,287.24 2317.7,284.62 2318.5,282 2319.3,279.36 2320.11,276.72 2320.91,274.07 2321.71,271.42 2322.52,268.76 2323.32,266.09 2324.12,263.42 2324.93,260.74 2325.73,258.06 2326.53,255.37 2327.34,252.68 2328.14,249.98 2328.94,247.29 2329.75,244.58 2330.55,241.88 2331.35,239.17 2332.16,236.47 2332.96,233.76 2333.76,231.05 2334.57,228.34 2335.37,225.63 2336.18,222.92 2336.98,220.21 2337.78,217.5 2338.59,214.8 2339.39,212.1 2340.19,209.4 2341,206.71 2341.8,204.02 2342.6,201.33 2343.41,198.65 2344.21,195.98 2345.01,193.32 2345.82,190.66 2346.62,188.01 2347.42,185.37 2348.23,182.74 2349.03,180.12 2349.83,177.51 2350.64,174.92 2351.44,172.33 2352.24,169.76 2353.05,167.21 2353.85,164.67 2354.65,162.14 2355.46,159.63 2356.26,157.15 2357.06,154.67 2357.87,152.22 2358.67,149.79 2359.47,147.38 2360.28,144.99 2361.08,142.63 2361.88,140.29 2362.69,137.98 2363.49,135.69 2364.29,133.42 2365.1,131.19 2365.9,128.99 2366.7,126.81 2367.51,124.67 2368.31,122.56 2369.11,120.48 2369.92,118.44 2370.72,116.43 2371.52,114.46 2372.33,112.53 2373.13,110.64 2373.93,108.78 2374.74,106.97 2375.54,105.2 2376.34,103.48 2377.15,101.8 2377.95,100.16 2378.75,98.58 2379.56,97.04 2380.36,95.55 2381.16,94.11 2381.97,92.73 2382.77,91.39 2383.57,90.12 2384.38,88.9 2385.18,87.73 2385.99,86.63 2386.79,85.58 2387.59,84.59 2388.4,83.67 2389.2,82.81 2390,82.01 2390.81,81.28 2391.61,80.62 2392.41,80.03 2393.22,79.5 2394.02,79.05 2394.82,78.67 2395.63,78.36 2396.43,78.12 2397.23,77.96 2398.04,77.88 2398.84,77.87 2399.64,77.94 2400.45,78.1 2401.25,78.33 2402.05,78.64 2402.86,79.04 2403.66,79.52 2404.46,80.09 2405.27,80.74 2406.07,81.48 2406.87,82.31 2407.68,83.22 2408.48,84.22 2409.28,85.32 2410.09,86.5 2410.89,87.78 2411.69,89.15 2412.5,90.61 2413.3,92.16 2414.1,93.81 2414.91,95.55 2415.71,97.39 2416.51,99.32 2417.32,101.35 2418.12,103.47 2418.92,105.69 2419.73,108.01 2420.53,110.42 2421.33,112.93 2422.14,115.53 2422.94,118.24 2423.74,121.03 2424.55,123.93 2425.35,126.92 2426.15,130.01 2426.96,133.19 2427.76,136.47 2428.56,139.85 2429.37,143.31 2430.17,146.88 2430.97,150.53 2431.78,154.28 2432.58,158.12 2433.39,162.05 2434.19,166.07 2434.99,170.18 2435.8,174.38 2436.6,178.66 2437.4,183.03 2438.21,187.49 2439.01,192.03 2439.81,196.65 2440.62,201.35 2441.42,206.13 2442.22,210.99 2443.03,215.92 2443.83,220.93 2444.63,226.01 2445.44,231.16 2446.24,236.38 2447.04,241.67 2447.85,247.02 2448.65,252.43 2449.45,257.91 2450.26,263.44 2451.06,269.03 2451.86,274.68 2452.67,280.38 2453.47,286.12 2454.27,291.92 2455.08,297.76 2455.88,303.64 2456.68,309.56 2457.49,315.52 2458.29,321.51 2459.09,327.53 2459.9,333.59 2460.7,339.67 2461.5,345.78 2462.31,351.9 2463.11,358.05 2463.91,364.21 2464.72,370.39 2465.52,376.57 2466.32,382.77 2467.13,388.96 2467.93,395.17 2468.73,401.36 2469.54,407.56 2470.34,413.75 2471.14,419.93 2471.95,426.1 2472.75,432.25 2473.55,438.39 2474.36,444.5 2475.16,450.6 2475.96,456.66 2476.77,462.7 2477.57,468.71 2478.37,474.69 2479.18,480.63 2479.98,486.52 2480.78,492.38 2481.59,498.2 2482.39,503.97 2483.2,509.69 2484,515.36 2484.8,520.97 2485.61,526.53 2486.41,532.03 2487.21,537.48 2488.02,542.86 2488.82,548.17 2489.62,553.43 2490.43,558.61 2491.23,563.72 2492.03,568.76 2492.84,573.73 2493.64,578.62 2494.44,583.44 2495.25,588.17 2496.05,592.83 2496.85,597.41" fill="none" stroke="#22c022" stroke-width="3.2" stroke-linejoin="round" stroke-dasharray="18.27 12.31" stroke-dashoffset="-1.6" stroke-linecap="round"/>
<polyline points="1447.77,722.48 1453.9,722.39 1460.02,722.31 1466.14,722.22 1472.26,722.13 1478.38,722.04 1484.51,721.95 1490.63,721.85 1496.75,721.76 1502.87,721.66 1509,721.55 1515.12,721.45 1521.24,721.34 1527.36,721.23 1533.48,721.12 1539.61,721 1545.73,720.88 1551.85,720.76 1557.97,720.63 1564.09,720.51 1570.22,720.37 1576.34,720.24 1582.46,720.1 1588.58,719.96 1594.7,719.81 1600.83,719.66 1606.95,719.5 1613.07,719.35 1619.19,719.18 1625.31,719.01 1631.44,718.84 1637.56,718.66 1643.68,718.48 1649.8,718.29 1655.92,718.1 1662.05,717.9 1668.17,717.7 1674.29,717.48 1680.41,717.27 1686.54,717.04 1692.66,716.81 1698.78,716.58 1704.9,716.33 1711.02,716.08 1717.15,715.82 1723.27,715.55 1729.39,715.28 1735.51,714.99 1741.63,714.7 1747.76,714.39 1753.88,714.08 1760,713.75 1766.12,713.42 1772.24,713.07 1778.37,712.72 1784.49,712.35 1790.61,711.97 1796.73,711.57 1802.85,711.16 1808.98,710.74 1815.1,710.31 1821.22,709.85 1827.34,709.38 1833.46,708.9 1839.59,708.4 1845.71,707.88 1851.83,707.33 1857.95,706.77 1864.08,706.19 1870.2,705.59 1876.32,704.96 1882.44,704.31 1888.56,703.64 1894.69,702.94 1900.81,702.21 1906.93,701.45 1913.05,700.66 1919.17,699.84 1925.3,698.99 1931.42,698.1 1937.54,697.18 1943.66,696.21 1949.78,695.21 1955.91,694.16 1962.03,693.07 1968.15,691.93 1974.27,690.74 1980.39,689.5 1986.52,688.21 1992.64,686.85 1998.76,685.44 2004.88,683.95 2011,682.41 2017.13,680.78 2023.25,679.09 2029.37,677.31 2035.49,675.44 2041.62,673.49 2047.74,671.44 2053.86,669.29 2059.98,667.03 2066.1,664.66 2072.23,662.17 2078.35,659.55 2084.47,656.8 2090.59,653.91 2096.71,650.86 2102.84,647.65 2108.96,644.27 2115.08,640.7 2121.2,636.95 2127.32,632.99 2133.45,628.81 2139.57,624.39 2145.69,619.73 2151.81,614.81 2157.93,609.61 2164.06,604.11 2170.18,598.3 2176.3,592.15 2177.1,591.32 2177.91,590.48 2178.71,589.63 2179.51,588.78 2180.32,587.92 2181.12,587.06 2181.92,586.19 2182.73,585.31 2183.53,584.43 2184.33,583.54 2185.14,582.64 2185.94,581.74 2186.74,580.83 2187.55,579.91 2188.35,578.99 2189.16,578.06 2189.96,577.12 2190.76,576.17 2191.57,575.22 2192.37,574.26 2193.17,573.3 2193.98,572.32 2194.78,571.34 2195.58,570.35 2196.39,569.36 2197.19,568.36 2197.99,567.34 2198.8,566.33 2199.6,565.3 2200.4,564.27 2201.21,563.23 2202.01,562.18 2202.81,561.12 2203.62,560.06 2204.42,558.98 2205.22,557.9 2206.03,556.82 2206.83,555.72 2207.63,554.61 2208.44,553.5 2209.24,552.38 2210.04,551.25 2210.85,550.11 2211.65,548.96 2212.45,547.81 2213.26,546.64 2214.06,545.47 2214.86,544.29 2215.67,543.1 2216.47,541.9 2217.27,540.69 2218.08,539.47 2218.88,538.25 2219.68,537.01 2220.49,535.77 2221.29,534.51 2222.09,533.25 2222.9,531.98 2223.7,530.7 2224.5,529.4 2225.31,528.1 2226.11,526.79 2226.91,525.47 2227.72,524.14 2228.52,522.8 2229.32,521.45 2230.13,520.09 2230.93,518.72 2231.73,517.34 2232.54,515.95 2233.34,514.55 2234.14,513.14 2234.95,511.72 2235.75,510.28 2236.56,508.84 2237.36,507.39 2238.16,505.93 2238.97,504.45 2239.77,502.97 2240.57,501.47 2241.38,499.96 2242.18,498.45 2242.98,496.92 2243.79,495.38 2244.59,493.83 2245.39,492.27 2246.2,490.69 2247,489.11 2247.8,487.51 2248.61,485.91 2249.41,484.29 2250.21,482.66 2251.02,481.02 2251.82,479.36 2252.62,477.7 2253.43,476.02 2254.23,474.33 2255.03,472.63 2255.84,470.92 2256.64,469.2 2257.44,467.46 2258.25,465.71 2259.05,463.95 2259.85,462.18 2260.66,460.4 2261.46,458.6 2262.26,456.79 2263.07,454.97 2263.87,453.13 2264.67,451.29 2265.48,449.43 2266.28,447.56 2267.08,445.67 2267.89,443.78 2268.69,441.87 2269.49,439.95 2270.3,438.01 2271.1,436.07 2271.9,434.11 2272.71,432.14 2273.51,430.15 2274.31,428.15 2275.12,426.14 2275.92,424.12 2276.72,422.08 2277.53,420.03 2278.33,417.97 2279.13,415.9 2279.94,413.81 2280.74,411.71 2281.54,409.6 2282.35,407.47 2283.15,405.33 2283.95,403.18 2284.76,401.02 2285.56,398.84 2286.37,396.65 2287.17,394.45 2287.97,392.24 2288.78,390.01 2289.58,387.77 2290.38,385.52 2291.19,383.25 2291.99,380.97 2292.79,378.68 2293.6,376.38 2294.4,374.07 2295.2,371.74 2296.01,369.4 2296.81,367.05 2297.61,364.69 2298.42,362.31 2299.22,359.92 2300.02,357.53 2300.83,355.12 2301.63,352.69 2302.43,350.26 2303.24,347.82 2304.04,345.36 2304.84,342.9 2305.65,340.42 2306.45,337.93 2307.25,335.43 2308.06,332.92 2308.86,330.4 2309.66,327.87 2310.47,325.34 2311.27,322.79 2312.07,320.23 2312.88,317.66 2313.68,315.08 2314.48,312.5 2315.29,309.9 2316.09,307.3 2316.89,304.69 2317.7,302.07 2318.5,299.44 2319.3,296.81 2320.11,294.17 2320.91,291.52 2321.71,288.86 2322.52,286.2 2323.32,283.54 2324.12,280.86 2324.93,278.19 2325.73,275.5 2326.53,272.82 2327.34,270.13 2328.14,267.43 2328.94,264.73 2329.75,262.03 2330.55,259.33 2331.35,256.62 2332.16,253.91 2332.96,251.2 2333.76,248.49 2334.57,245.78 2335.37,243.07 2336.18,240.36 2336.98,237.66 2337.78,234.95 2338.59,232.25 2339.39,229.54 2340.19,226.85 2341,224.15 2341.8,221.46 2342.6,218.78 2343.41,216.1 2344.21,213.43 2345.01,210.76 2345.82,208.1 2346.62,205.46 2347.42,202.82 2348.23,200.19 2349.03,197.57 2349.83,194.96 2350.64,192.36 2351.44,189.78 2352.24,187.21 2353.05,184.65 2353.85,182.11 2354.65,179.59 2355.46,177.08 2356.26,174.59 2357.06,172.12 2357.87,169.67 2358.67,167.24 2359.47,164.83 2360.28,162.44 2361.08,160.08 2361.88,157.74 2362.69,155.42 2363.49,153.13 2364.29,150.87 2365.1,148.64 2365.9,146.43 2366.7,144.26 2367.51,142.12 2368.31,140.01 2369.11,137.93 2369.92,135.89 2370.72,133.88 2371.52,131.91 2372.33,129.98 2373.13,128.08 2373.93,126.23 2374.74,124.42 2375.54,122.65 2376.34,120.93 2377.15,119.24 2377.95,117.61 2378.75,116.02 2379.56,114.49 2380.36,113 2381.16,111.56 2381.97,110.17 2382.77,108.84 2383.57,107.56 2384.38,106.34 2385.18,105.18 2385.99,104.07 2386.79,103.03 2387.59,102.04 2388.4,101.12 2389.2,100.26 2390,99.46 2390.81,98.73 2391.61,98.07 2392.41,97.47 2393.22,96.95 2394.02,96.5 2394.82,96.11 2395.63,95.8 2396.43,95.57 2397.23,95.41 2398.04,95.32 2398.84,95.32 2399.64,95.39 2400.45,95.54 2401.25,95.78 2402.05,96.09 2402.86,96.49 2403.66,96.97 2404.46,97.54 2405.27,98.19 2406.07,98.93 2406.87,99.75 2407.68,100.67 2408.48,101.67 2409.28,102.76 2410.09,103.95 2410.89,105.22 2411.69,106.59 2412.5,108.05 2413.3,109.61 2414.1,111.25 2414.91,113 2415.71,114.83 2416.51,116.76 2417.32,118.79 2418.12,120.92 2418.92,123.14 2419.73,125.45 2420.53,127.86 2421.33,130.37 2422.14,132.98 2422.94,135.68 2423.74,138.48 2424.55,141.38 2425.35,144.37 2426.15,147.46 2426.96,150.64 2427.76,153.92 2428.56,157.29 2429.37,160.76 2430.17,164.32 2430.97,167.98 2431.78,171.73 2432.58,175.56 2433.39,179.5 2434.19,183.52 2434.99,187.63 2435.8,191.82 2436.6,196.11 2437.4,200.48 2438.21,204.93 2439.01,209.47 2439.81,214.09 2440.62,218.79 2441.42,223.57 2442.22,228.43 2443.03,233.37 2443.83,238.37 2444.63,243.45 2445.44,248.61 2446.24,253.83 2447.04,259.11 2447.85,264.46 2448.65,269.88 2449.45,275.35 2450.26,280.89 2451.06,286.48 2451.86,292.12 2452.67,297.82 2453.47,303.57 2454.27,309.36 2455.08,315.2 2455.88,321.08 2456.68,327 2457.49,332.96 2458.29,338.96 2459.09,344.98 2459.9,351.04 2460.7,357.12 2461.5,363.22 2462.31,369.35 2463.11,375.5 2463.91,381.66 2464.72,387.83 2465.52,394.02 2466.32,400.21 2467.13,406.41 2467.93,412.61 2468.73,418.81 2469.54,425.01 2470.34,431.2 2471.14,437.38 2471.95,443.55 2472.75,449.7 2473.55,455.84 2474.36,461.95 2475.16,468.04 2475.96,474.11 2476.77,480.15 2477.57,486.16 2478.37,492.13 2479.18,498.07 2479.98,503.97 2480.78,509.83 2481.59,515.64 2482.39,521.41 2483.2,527.13 2484,532.8 2484.8,538.42 2485.61,543.98 2486.41,549.48 2487.21,554.92 2488.02,560.3 2488.82,565.62 2489.62,570.87 2490.43,576.05 2491.23,581.17 2492.03,586.21 2492.84,591.18 2493.64,596.07 2494.44,600.88 2495.25,605.62 2496.05,610.28 2496.85,614.85" fill="none" stroke="#ff00ff" stroke-width="3.2" stroke-linejoin="round" stroke-dasharray="10.89 10.94 0.1 11.79" stroke-dashoffset="-1.6" stroke-linecap="round"/>
</g>
<g font-family="Liberation Serif, serif" font-size="22.5" fill="#000" stroke="#000" stroke-width="0.2"><text text-anchor="end" transform="translate(1137.9,25.8) scale(0.82,1)">0</text><text text-anchor="end" transform="translate(1137.9,108.88) scale(0.82,1)">−<tspan dx="1.8">0.1</tspan></text><text text-anchor="end" transform="translate(1137.9,191.96) scale(0.82,1)">−<tspan dx="1.8">0.2</tspan></text><text text-anchor="end" transform="translate(1137.9,275.04) scale(0.82,1)">−<tspan dx="1.8">0.3</tspan></text><text text-anchor="end" transform="translate(1137.9,358.12) scale(0.82,1)">−<tspan dx="1.8">0.4</tspan></text><text text-anchor="end" transform="translate(1137.9,441.2) scale(0.82,1)">−<tspan dx="1.8">0.5</tspan></text><text text-anchor="end" transform="translate(1137.9,524.28) scale(0.82,1)">−<tspan dx="1.8">0.6</tspan></text><text text-anchor="end" transform="translate(1137.9,607.36) scale(0.82,1)">−<tspan dx="1.8">0.7</tspan></text><text text-anchor="end" transform="translate(1137.9,690.44) scale(0.82,1)">−<tspan dx="1.8">0.8</tspan></text><text text-anchor="middle" transform="translate(1154.6,759.4) scale(0.82,1)">−<tspan dx="2.5">7</tspan></text><text text-anchor="middle" transform="translate(1270.8,759.4) scale(0.82,1)">−<tspan dx="2.5">6</tspan></text><text text-anchor="middle" transform="translate(1387,759.4) scale(0.82,1)">−<tspan dx="2.5">5</tspan></text><text text-anchor="middle" transform="translate(1503.2,759.4) scale(0.82,1)">−<tspan dx="2.5">4</tspan></text><text text-anchor="middle" transform="translate(1619.4,759.4) scale(0.82,1)">−<tspan dx="2.5">3</tspan></text><text text-anchor="middle" transform="translate(1735.6,759.4) scale(0.82,1)">−<tspan dx="2.5">2</tspan></text><text text-anchor="middle" transform="translate(1851.8,759.4) scale(0.82,1)">−<tspan dx="2.5">1</tspan></text><text text-anchor="middle" transform="translate(1968,759.4) scale(0.82,1)">0</text></g>
<text font-family="Liberation Serif, serif" font-style="italic" font-size="35.5" transform="translate(1039.8,384.1) scale(0.8,1)">p(x)</text>
<text font-family="Liberation Serif, serif" font-style="italic" font-size="33" transform="translate(1565.6,799) scale(0.82,1)">x</text>
<g font-family="Liberation Sans, sans-serif" font-weight="bold"><text font-size="40.6" transform="translate(1181.2,69.3) scale(0.79,1)">(</text><text font-size="40.4" transform="translate(1194.3,69.3) scale(1.02,1)">b</text><text font-size="40.6" transform="translate(1221.6,69.3) scale(0.79,1)">)</text></g>
<rect x="38.75" y="813.5" width="881.75" height="87.5" fill="none" stroke="#626262" stroke-width="2.3" stroke-linejoin="round"/>
<ellipse cx="64.5" cy="836.5" rx="5.5" ry="7" fill="#000"/>
<text font-family="Liberation Serif, serif" font-style="italic" font-size="34" stroke="#000" stroke-width="0.3" transform="translate(91,850) scale(0.835,1)">Newtonian</text>
<line x1="340.9" y1="836.5" x2="382.5" y2="836.5" stroke="#cd7f32" stroke-width="2.6"/>
<text font-family="Liberation Serif, serif" font-style="italic" font-size="34" stroke="#000" stroke-width="0.3" transform="translate(390,850) scale(0.835,1)">We= 0.1, λ= 0.4775</text>
<line x1="632.5" y1="836.5" x2="674.1" y2="836.5" stroke="#ff0000" stroke-width="3.2" stroke-dasharray="29.5 7"/>
<text font-family="Liberation Serif, serif" font-style="italic" font-size="34" stroke="#000" stroke-width="0.3" transform="translate(682,850) scale(0.835,1)">We= 0.3, λ = 0.4823</text>
<line x1="43" y1="877.8" x2="84.6" y2="877.8" stroke="#000080" stroke-width="3.2" stroke-dasharray="17.5 19"/>
<text font-family="Liberation Serif, serif" font-style="italic" font-size="34" stroke="#000" stroke-width="0.3" transform="translate(93,891) scale(0.835,1)">We = 0.5, λ = 0.4871</text>
<line x1="340.9" y1="877.8" x2="382.5" y2="877.8" stroke="#22c022" stroke-width="3.2" stroke-dasharray="17.5 7"/>
<text font-family="Liberation Serif, serif" font-style="italic" font-size="34" stroke="#000" stroke-width="0.3" transform="translate(390,891) scale(0.835,1)">We= 0.7, λ = 0.4919</text>
<line x1="632.5" y1="877.8" x2="674.1" y2="877.8" stroke="#ff00ff" stroke-width="3.2" stroke-dasharray="11.6 7 1.8 7"/>
<text font-family="Liberation Serif, serif" font-style="italic" font-size="34" stroke="#000" stroke-width="0.3" transform="translate(682,891) scale(0.835,1)">We= 0.9, λ = 0.4967</text>
<rect x="1072.5" y="813.5" width="883.75" height="87.5" fill="none" stroke="#626262" stroke-width="2.3" stroke-linejoin="round"/>
<ellipse cx="1098.5" cy="836.5" rx="5.5" ry="7" fill="#000"/>
<text font-family="Liberation Serif, serif" font-style="italic" font-size="34" stroke="#000" stroke-width="0.3" transform="translate(1125,850) scale(0.835,1)">Newtonian</text>
<line x1="1374" y1="836.5" x2="1415.6" y2="836.5" stroke="#cd7f32" stroke-width="2.6"/>
<text font-family="Liberation Serif, serif" font-style="italic" font-size="34" stroke="#000" stroke-width="0.3" transform="translate(1421.5,850) scale(0.835,1)">m= 0.5, λ= 0.48578</text>
<line x1="1662" y1="836.5" x2="1703.6" y2="836.5" stroke="#ff0000" stroke-width="3.2" stroke-dasharray="29.5 7"/>
<text font-family="Liberation Serif, serif" font-style="italic" font-size="34" stroke="#000" stroke-width="0.3" transform="translate(1711,850) scale(0.835,1)">m= 1.5, λ = 0.48242</text>
<line x1="1077" y1="877.8" x2="1118.6" y2="877.8" stroke="#000080" stroke-width="3.2" stroke-dasharray="17.5 19"/>
<text font-family="Liberation Serif, serif" font-style="italic" font-size="34" stroke="#000" stroke-width="0.3" transform="translate(1125,891) scale(0.835,1)">m = 2.5, λ = 0.47897</text>
<line x1="1374" y1="877.8" x2="1415.6" y2="877.8" stroke="#22c022" stroke-width="3.2" stroke-dasharray="17.5 7"/>
<text font-family="Liberation Serif, serif" font-style="italic" font-size="34" stroke="#000" stroke-width="0.3" transform="translate(1421.5,891) scale(0.835,1)">m= 3.5, λ = 0.47545</text>
<line x1="1662" y1="877.8" x2="1703.6" y2="877.8" stroke="#ff00ff" stroke-width="3.2" stroke-dasharray="11.6 7 1.8 7"/>
<text font-family="Liberation Serif, serif" font-style="italic" font-size="34" stroke="#000" stroke-width="0.3" transform="translate(1711,891) scale(0.835,1)">m= 4.5, λ = 0.47183</text>
</svg></body></html>
